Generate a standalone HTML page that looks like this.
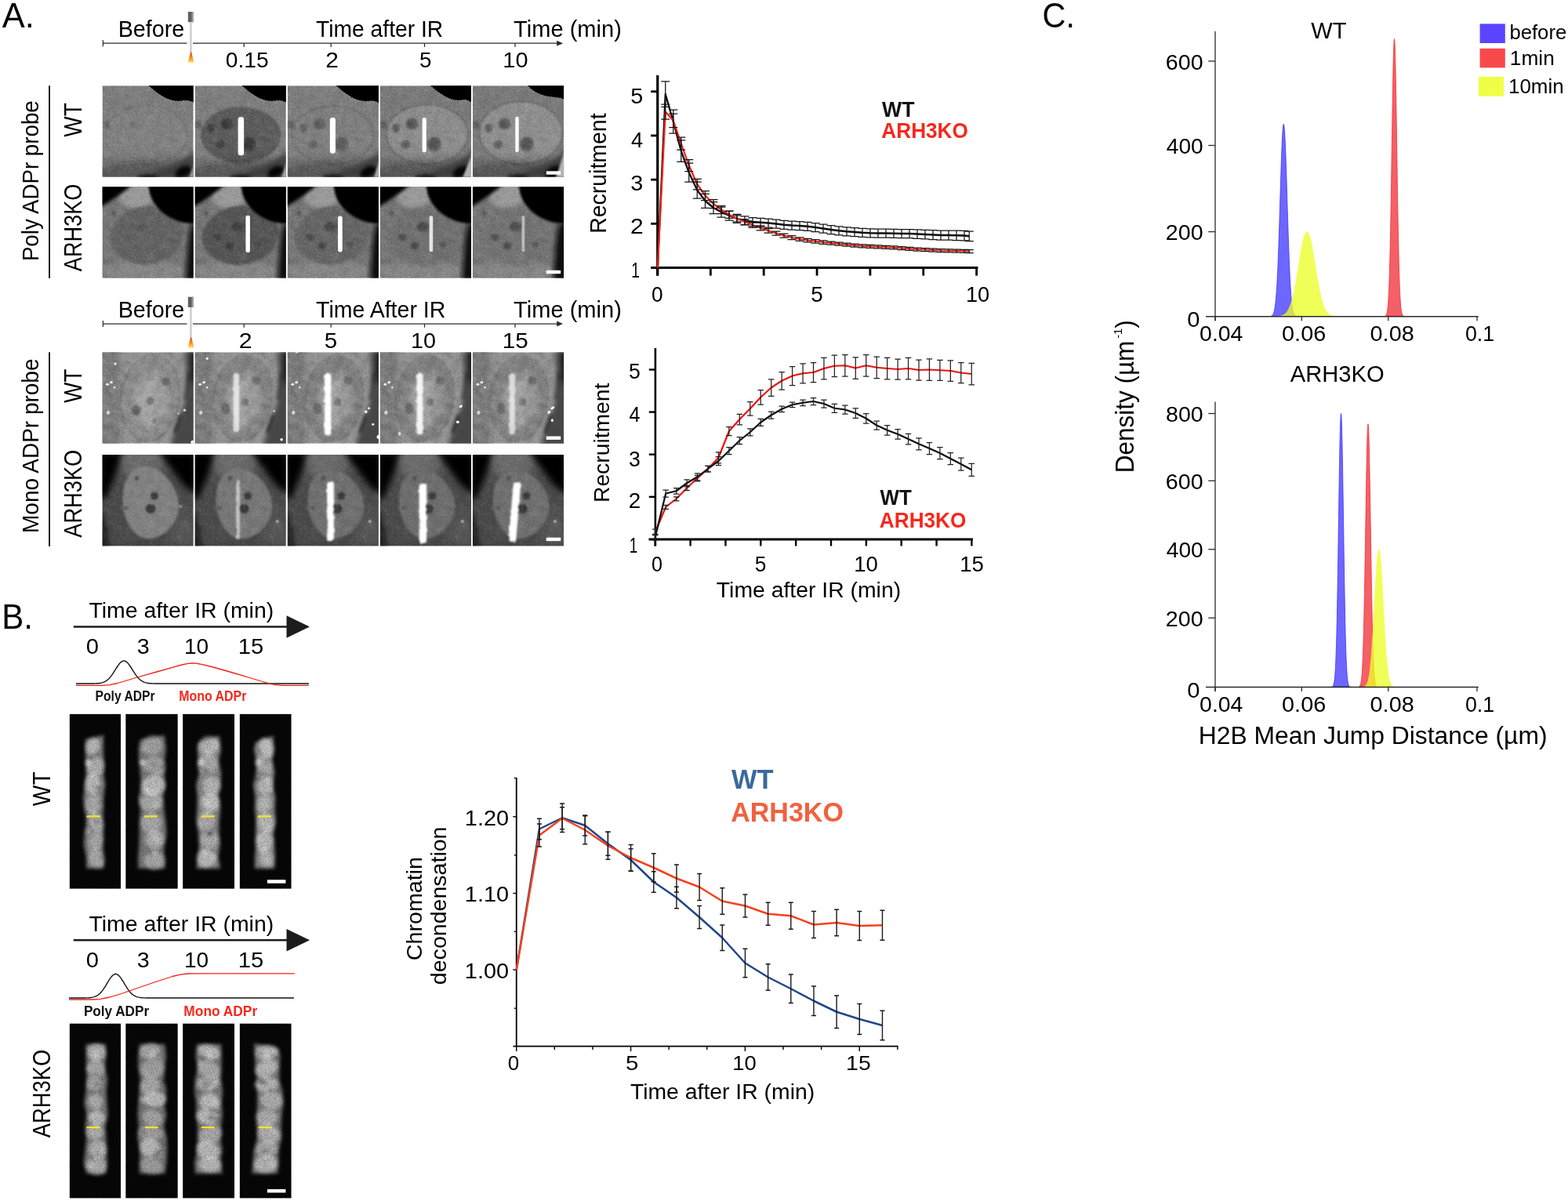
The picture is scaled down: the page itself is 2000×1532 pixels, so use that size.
<!DOCTYPE html>
<html lang="en"><head><meta charset="utf-8"><title>Figure</title>
<style>html,body{margin:0;padding:0;background:#fff;overflow:hidden}svg{display:block}text{font-family:"Liberation Sans",sans-serif}</style></head>
<body>
<svg width="2000" height="1532" viewBox="0 0 2000 1532">
<defs>
<linearGradient id="flame" x1="0" y1="0" x2="0" y2="1"><stop offset="0" stop-color="#e2401f"/><stop offset="0.45" stop-color="#f08a1c"/><stop offset="0.8" stop-color="#fbc63a"/><stop offset="1" stop-color="#ffe9a0" stop-opacity="0.6"/></linearGradient>
<filter id="b05" x="-30%" y="-30%" width="160%" height="160%"><feGaussianBlur stdDeviation="0.5"/></filter><filter id="b07" x="-30%" y="-30%" width="160%" height="160%"><feGaussianBlur stdDeviation="0.7"/></filter><filter id="b1" x="-30%" y="-30%" width="160%" height="160%"><feGaussianBlur stdDeviation="1"/></filter><filter id="b15" x="-30%" y="-30%" width="160%" height="160%"><feGaussianBlur stdDeviation="1.5"/></filter><filter id="b2" x="-30%" y="-30%" width="160%" height="160%"><feGaussianBlur stdDeviation="2"/></filter><filter id="b3" x="-30%" y="-30%" width="160%" height="160%"><feGaussianBlur stdDeviation="3"/></filter><filter id="b4" x="-30%" y="-30%" width="160%" height="160%"><feGaussianBlur stdDeviation="4"/></filter><filter id="b6" x="-30%" y="-30%" width="160%" height="160%"><feGaussianBlur stdDeviation="6"/></filter><clipPath id="tc"><rect width="116.2" height="116.5"/></clipPath><clipPath id="bc"><rect width="66.2" height="223.3"/></clipPath><filter id="nz" x="0" y="0" width="100%" height="100%" color-interpolation-filters="sRGB"><feTurbulence type="fractalNoise" baseFrequency="0.45" numOctaves="1" seed="7" result="n"/><feColorMatrix in="n" type="matrix" values="0 0 0 0 1  0 0 0 0 1  0 0 0 0 1  2.4 0 0 0 -1.2" result="w"/><feColorMatrix in="n" type="matrix" values="0 0 0 0 0  0 0 0 0 0  0 0 0 0 0  -2.4 0 0 0 1.2" result="k"/><feMerge><feMergeNode in="w"/><feMergeNode in="k"/></feMerge></filter><filter id="nzc" x="0" y="0" width="100%" height="100%" color-interpolation-filters="sRGB"><feTurbulence type="fractalNoise" baseFrequency="0.1" numOctaves="2" seed="23" result="n"/><feColorMatrix in="n" type="matrix" values="0 0 0 0 1  0 0 0 0 1  0 0 0 0 1  3.0 0 0 0 -1.5" result="w"/><feColorMatrix in="n" type="matrix" values="0 0 0 0 0  0 0 0 0 0  0 0 0 0 0  -3.0 0 0 0 1.5" result="k"/><feMerge><feMergeNode in="w"/><feMergeNode in="k"/></feMerge></filter><filter id="rg" x="-60%" y="-10%" width="220%" height="120%"><feTurbulence type="fractalNoise" baseFrequency="0.16" numOctaves="2" seed="9" result="t"/><feDisplacementMap in="SourceGraphic" in2="t" scale="3.4" xChannelSelector="R" yChannelSelector="G"/><feGaussianBlur stdDeviation="0.8"/></filter><filter id="rg1" x="-60%" y="-10%" width="220%" height="120%"><feTurbulence type="fractalNoise" baseFrequency="0.16" numOctaves="2" seed="9" result="t"/><feDisplacementMap in="SourceGraphic" in2="t" scale="1.6" xChannelSelector="R" yChannelSelector="G"/><feGaussianBlur stdDeviation="0.5"/></filter><filter id="nzd" x="0" y="0" width="100%" height="100%" color-interpolation-filters="sRGB"><feTurbulence type="fractalNoise" baseFrequency="0.75" numOctaves="1" seed="3" result="n"/><feColorMatrix in="n" type="matrix" values="0 0 0 0 0  0 0 0 0 0  0 0 0 0 0  -3.2 0 0 0 1.9"/></filter></defs>
<rect width="2000" height="1532" fill="#fff"/>
<text transform="translate(2.70 34.60) scale(0.9647 1)" font-size="45.00" fill="#000">A.</text>
<text transform="translate(2.23 801.60) scale(0.9673 1)" font-size="43.50" fill="#000">B.</text>
<text transform="translate(1329.53 35.00) scale(0.9201 1)" font-size="45.00" fill="#000">C.</text>
<line x1="131.40" y1="55.20" x2="238.50" y2="55.20" stroke="#2a2a2a" stroke-width="1.25"/><line x1="131.40" y1="51.20" x2="131.40" y2="59.20" stroke="#2a2a2a" stroke-width="1.25"/><line x1="246.00" y1="55.20" x2="714.00" y2="55.20" stroke="#2a2a2a" stroke-width="1.25"/><path d="M718 55.2 L710.2 51.7 L710.2 58.7Z" fill="#2a2a2a"/><line x1="311.20" y1="55.20" x2="311.20" y2="60.00" stroke="#2a2a2a" stroke-width="1.25"/><line x1="422.20" y1="55.20" x2="422.20" y2="60.00" stroke="#2a2a2a" stroke-width="1.25"/><line x1="541.50" y1="55.20" x2="541.50" y2="60.00" stroke="#2a2a2a" stroke-width="1.25"/><line x1="657.00" y1="55.20" x2="657.00" y2="60.00" stroke="#2a2a2a" stroke-width="1.25"/><text transform="translate(150.70 46.60) scale(0.9803 1)" font-size="29.30" fill="#000">Before</text><text transform="translate(403.04 46.60) scale(0.9641 1)" font-size="29.30" fill="#000">Time after IR</text><text transform="translate(655.02 46.60) scale(0.9927 1)" font-size="29.30" fill="#000">Time (min)</text><text transform="translate(287.77 86.30) scale(0.9877 1)" font-size="28.50" fill="#000">0.15</text><text transform="translate(415.21 86.30) scale(1.0488 1)" font-size="28.50" fill="#000">2</text><text transform="translate(534.89 86.30) scale(0.9751 1)" font-size="28.50" fill="#000">5</text><text transform="translate(641.33 86.30) scale(1.0140 1)" font-size="28.50" fill="#000">10</text><rect x="239.8" y="15" width="7.2" height="13.2" fill="#5a6165"/><rect x="244.6" y="15" width="2.4" height="13.2" fill="#9aa1a5"/><rect x="242.3" y="28.2" width="2.5" height="38.6" fill="#c4c4c4"/><rect x="243.6" y="28.2" width="1.2" height="38.6" fill="#e2e2e2"/><path d="M243 66.6 L244.2 66.6 L247.6 80.6 L239.4 80.6Z" fill="url(#flame)"/>
<line x1="131.40" y1="413.00" x2="238.50" y2="413.00" stroke="#2a2a2a" stroke-width="1.25"/><line x1="131.40" y1="409.00" x2="131.40" y2="417.00" stroke="#2a2a2a" stroke-width="1.25"/><line x1="246.00" y1="413.00" x2="714.00" y2="413.00" stroke="#2a2a2a" stroke-width="1.25"/><path d="M718 413 L710.2 409.5 L710.2 416.5Z" fill="#2a2a2a"/><line x1="311.20" y1="413.00" x2="311.20" y2="417.80" stroke="#2a2a2a" stroke-width="1.25"/><line x1="422.20" y1="413.00" x2="422.20" y2="417.80" stroke="#2a2a2a" stroke-width="1.25"/><line x1="541.50" y1="413.00" x2="541.50" y2="417.80" stroke="#2a2a2a" stroke-width="1.25"/><line x1="657.00" y1="413.00" x2="657.00" y2="417.80" stroke="#2a2a2a" stroke-width="1.25"/><text transform="translate(150.70 404.80) scale(0.9803 1)" font-size="29.30" fill="#000">Before</text><text transform="translate(403.03 404.80) scale(0.9733 1)" font-size="29.30" fill="#000">Time After IR</text><text transform="translate(655.02 404.80) scale(0.9927 1)" font-size="29.30" fill="#000">Time (min)</text><text transform="translate(304.74 444.40) scale(1.0603 1)" font-size="28.50" fill="#000">2</text><text transform="translate(413.82 444.40) scale(1.0342 1)" font-size="28.50" fill="#000">5</text><text transform="translate(524.09 444.40) scale(1.0088 1)" font-size="28.50" fill="#000">10</text><text transform="translate(640.78 444.40) scale(1.0403 1)" font-size="28.50" fill="#000">15</text><rect x="239.8" y="378.75" width="7.2" height="13.2" fill="#5a6165"/><rect x="244.6" y="378.75" width="2.4" height="13.2" fill="#9aa1a5"/><rect x="242.3" y="391.95" width="2.5" height="38.6" fill="#c4c4c4"/><rect x="243.6" y="391.95" width="1.2" height="38.6" fill="#e2e2e2"/><path d="M243 430.35 L244.2 430.35 L247.6 444.35 L239.4 444.35Z" fill="url(#flame)"/>
<line x1="63.00" y1="109.30" x2="63.00" y2="355.00" stroke="#222" stroke-width="2"/>
<line x1="63.00" y1="449.30" x2="63.00" y2="697.00" stroke="#222" stroke-width="2"/>
<text transform="translate(49.00 333.12) rotate(-90) scale(0.9397 1)" font-size="29.50" fill="#000">Poly ADPr probe</text>
<text transform="translate(103.50 174.64) rotate(-90) scale(0.9024 1)" font-size="31.00" fill="#000">WT</text>
<text transform="translate(103.50 346.20) rotate(-90) scale(0.8761 1)" font-size="31.00" fill="#000">ARH3KO</text>
<text transform="translate(49.00 679.94) rotate(-90) scale(0.9487 1)" font-size="29.50" fill="#000">Mono ADPr probe</text>
<text transform="translate(103.50 514.04) rotate(-90) scale(0.9024 1)" font-size="31.00" fill="#000">WT</text>
<text transform="translate(103.50 685.70) rotate(-90) scale(0.8785 1)" font-size="31.00" fill="#000">ARH3KO</text>
<g transform="translate(130.5 109.3)" clip-path="url(#tc)"><rect x="0.0" y="0.0" width="116.2" height="116.5" fill="#7e7e7e"/><g filter="url(#b1)"><ellipse cx="56.0" cy="63.0" rx="53.0" ry="39.0" fill="#707070" opacity="0.6"/><ellipse cx="56.0" cy="63.0" rx="51.0" ry="37.0" fill="#828282"/></g><g filter="url(#b15)"><ellipse cx="41.0" cy="49.0" rx="6.0" ry="6.0" fill="#747474" opacity="0.8"/><ellipse cx="87.0" cy="60.0" rx="3.0" ry="3.0" fill="#707070" opacity="0.7"/><ellipse cx="6.0" cy="50.0" rx="4.0" ry="5.0" fill="#606060" opacity="0.7"/><ellipse cx="36.0" cy="28.0" rx="4.0" ry="2.0" fill="#686868" opacity="0.6" transform="rotate(-20 36 28)"/></g><g filter="url(#b6)"><ellipse cx="62.0" cy="124.0" rx="90.0" ry="30.0" fill="#323232" opacity="0.5"/></g><rect x="-50" y="-50" width="220" height="220" transform="rotate(27 58 58)" filter="url(#nz)" opacity="0.17"/><rect x="-50" y="-50" width="220" height="220" transform="rotate(27 58 58)" filter="url(#nzc)" opacity="0.06"/><g filter="url(#b3)"><path d="M46 118 C58 113 72 109 86 103 C98 97 108 90 118 84 L118 118Z" fill="#343434" opacity="0.8"/></g><g filter="url(#b2)"><ellipse cx="103.0" cy="110.0" rx="11.0" ry="6.5" fill="#060606" opacity="0.9" transform="rotate(-28 103 110)"/><ellipse cx="58.0" cy="118.0" rx="13.0" ry="4.0" fill="#080808" opacity="0.95"/></g><g filter="url(#b1)"><path d="M110.5 118 L117 100 L118 100 L118 118Z" fill="#969696"/></g><g filter="url(#b07)"><path d="M58 -1 C63 4 71 10.5 80 15.5 C88 19.5 96 20.5 104 19 C110 18.5 114 20 118 22.5 L118 -1Z" fill="#060606"/></g><path d="M58 -1 C63 4 71 10.5 80 15.5 C88 19.5 96 20.5 104 19 C110 18.5 114 20 118 22.5 L118 -1Z" fill="none" stroke="#c8c8c8" stroke-width="1.3" stroke-dasharray="1.3 2.6" opacity="0.45"/></g>
<g transform="translate(248.6 109.3)" clip-path="url(#tc)"><rect x="0.0" y="0.0" width="116.2" height="116.5" fill="#7e7e7e"/><g filter="url(#b1)"><ellipse cx="58.5" cy="63.0" rx="51.0" ry="36.0" fill="#5c5c5c"/></g><g filter="url(#b15)"><ellipse cx="40.5" cy="48.5" rx="7.6" ry="7.4" fill="#3a3a3a"/><ellipse cx="32.5" cy="75.0" rx="6.0" ry="5.4" fill="#404040"/><ellipse cx="69.0" cy="74.5" rx="9.0" ry="9.2" fill="#3a3a3a"/><ellipse cx="20.0" cy="54.0" rx="4.6" ry="5.6" fill="#404040"/><ellipse cx="4.0" cy="50.0" rx="4.5" ry="5.5" fill="#606060" opacity="0.8"/></g><g filter="url(#b6)"><ellipse cx="62.0" cy="124.0" rx="90.0" ry="30.0" fill="#323232" opacity="0.5"/></g><rect x="-50" y="-50" width="220" height="220" transform="rotate(27 58 58)" filter="url(#nz)" opacity="0.17"/><rect x="-50" y="-50" width="220" height="220" transform="rotate(27 58 58)" filter="url(#nzc)" opacity="0.06"/><g filter="url(#b3)"><path d="M46 118 C58 113 72 109 86 103 C98 97 108 90 118 84 L118 118Z" fill="#343434" opacity="0.8"/></g><g filter="url(#b2)"><ellipse cx="103.0" cy="110.0" rx="11.0" ry="6.5" fill="#060606" opacity="0.9" transform="rotate(-28 103 110)"/><ellipse cx="58.0" cy="118.0" rx="13.0" ry="4.0" fill="#080808" opacity="0.95"/></g><g filter="url(#b1)"><path d="M110 118 L117 98 L118 98 L118 118Z" fill="#a5a5a5"/></g><g filter="url(#b07)"><path d="M59 -1 C64 4 72 10.5 81 15.5 C89 19.5 97 20.5 105 19 C110 18.5 114 20 118 22.5 L118 -1Z" fill="#060606"/></g><path d="M59 -1 C64 4 72 10.5 81 15.5 C89 19.5 97 20.5 105 19 C110 18.5 114 20 118 22.5 L118 -1Z" fill="none" stroke="#c8c8c8" stroke-width="1.3" stroke-dasharray="1.3 2.6" opacity="0.45"/><g filter="url(#b05)"><rect x="55.0" y="40.0" width="7.5" height="49.0" fill="#ffffff" rx="3.2"/></g></g>
<g transform="translate(366.7 109.3)" clip-path="url(#tc)"><rect x="0.0" y="0.0" width="116.2" height="116.5" fill="#7e7e7e"/><g filter="url(#b1)"><ellipse cx="58.0" cy="63.0" rx="53.0" ry="38.0" fill="#666666" opacity="0.7"/><ellipse cx="58.0" cy="63.0" rx="51.0" ry="36.0" fill="#808080"/></g><g filter="url(#b15)"><ellipse cx="40.5" cy="48.5" rx="7.6" ry="7.4" fill="#5e5e5e"/><ellipse cx="32.5" cy="75.0" rx="6.0" ry="5.4" fill="#646464"/><ellipse cx="69.0" cy="74.5" rx="9.0" ry="9.2" fill="#5e5e5e"/><ellipse cx="20.0" cy="54.0" rx="4.6" ry="5.6" fill="#646464"/><ellipse cx="4.0" cy="50.0" rx="4.5" ry="5.5" fill="#606060" opacity="0.8"/><ellipse cx="85.0" cy="59.5" rx="2.6" ry="2.4" fill="#666666" opacity="0.8"/></g><g filter="url(#b6)"><ellipse cx="62.0" cy="124.0" rx="90.0" ry="30.0" fill="#323232" opacity="0.5"/></g><rect x="-50" y="-50" width="220" height="220" transform="rotate(27 58 58)" filter="url(#nz)" opacity="0.17"/><rect x="-50" y="-50" width="220" height="220" transform="rotate(27 58 58)" filter="url(#nzc)" opacity="0.06"/><g filter="url(#b3)"><path d="M46 118 C58 113 72 109 86 103 C98 97 108 90 118 84 L118 118Z" fill="#343434" opacity="0.8"/></g><g filter="url(#b2)"><ellipse cx="103.0" cy="110.0" rx="11.0" ry="6.5" fill="#060606" opacity="0.9" transform="rotate(-28 103 110)"/><ellipse cx="58.0" cy="118.0" rx="13.0" ry="4.0" fill="#080808" opacity="0.95"/></g><g filter="url(#b1)"><path d="M110 118 L117 96 L118 96 L118 118Z" fill="#aaaaaa"/></g><g filter="url(#b07)"><path d="M61 -1 C66 4 74 10.5 83 15.5 C90 19.5 98 20.5 106 19.5 C111 19 114 20.5 118 23.5 L118 -1Z" fill="#060606"/></g><path d="M61 -1 C66 4 74 10.5 83 15.5 C90 19.5 98 20.5 106 19.5 C111 19 114 20.5 118 23.5 L118 -1Z" fill="none" stroke="#c8c8c8" stroke-width="1.3" stroke-dasharray="1.3 2.6" opacity="0.45"/><g filter="url(#b05)"><rect x="54.1" y="40.7" width="7.1" height="45.8" fill="#ffffff" rx="3.2"/></g></g>
<g transform="translate(484.8 109.3)" clip-path="url(#tc)"><rect x="0.0" y="0.0" width="116.2" height="116.5" fill="#7a7a7a"/><g filter="url(#b1)"><ellipse cx="60.0" cy="62.0" rx="53.0" ry="39.0" fill="#626262" opacity="0.7"/><ellipse cx="60.0" cy="62.0" rx="51.0" ry="37.0" fill="#8e8e8e"/></g><g filter="url(#b15)"><ellipse cx="40.5" cy="48.5" rx="7.6" ry="7.4" fill="#565656"/><ellipse cx="32.5" cy="75.0" rx="6.0" ry="5.4" fill="#5c5c5c"/><ellipse cx="69.0" cy="74.5" rx="9.0" ry="9.2" fill="#565656"/><ellipse cx="20.0" cy="54.0" rx="4.6" ry="5.6" fill="#5c5c5c"/><ellipse cx="4.0" cy="50.0" rx="4.5" ry="5.5" fill="#5c5c5c" opacity="0.8"/><ellipse cx="85.0" cy="59.5" rx="2.6" ry="2.4" fill="#747474" opacity="0.8"/></g><g filter="url(#b6)"><ellipse cx="62.0" cy="124.0" rx="90.0" ry="30.0" fill="#323232" opacity="0.5"/></g><rect x="-50" y="-50" width="220" height="220" transform="rotate(27 58 58)" filter="url(#nz)" opacity="0.17"/><rect x="-50" y="-50" width="220" height="220" transform="rotate(27 58 58)" filter="url(#nzc)" opacity="0.06"/><g filter="url(#b3)"><path d="M46 118 C58 113 72 109 86 103 C98 97 108 90 118 84 L118 118Z" fill="#343434" opacity="0.8"/></g><g filter="url(#b2)"><ellipse cx="103.0" cy="110.0" rx="11.0" ry="6.5" fill="#060606" opacity="0.9" transform="rotate(-28 103 110)"/><ellipse cx="58.0" cy="118.0" rx="13.0" ry="4.0" fill="#080808" opacity="0.95"/></g><g filter="url(#b1)"><path d="M105 118 L117 88 L118 88 L118 118Z" fill="#afafaf"/></g><g filter="url(#b07)"><path d="M63.5 -1 C68 4 76 10 85 15 C92 18.5 100 19.5 107 18 C111 18 115 20 118 23 L118 -1Z" fill="#060606"/></g><path d="M63.5 -1 C68 4 76 10 85 15 C92 18.5 100 19.5 107 18 C111 18 115 20 118 23 L118 -1Z" fill="none" stroke="#c8c8c8" stroke-width="1.3" stroke-dasharray="1.3 2.6" opacity="0.45"/><g filter="url(#b05)"><rect x="53.8" y="40.6" width="5.2" height="44.4" fill="#ffffff" rx="2.6000000000000014"/></g></g>
<g transform="translate(602.9 109.3)" clip-path="url(#tc)"><rect x="0.0" y="0.0" width="116.2" height="116.5" fill="#7a7a7a"/><g filter="url(#b1)"><ellipse cx="61.5" cy="60.0" rx="54.0" ry="41.0" fill="#626262" opacity="0.7"/><ellipse cx="61.5" cy="60.0" rx="52.0" ry="39.0" fill="#909090"/></g><g filter="url(#b15)"><ellipse cx="40.5" cy="48.5" rx="7.6" ry="7.4" fill="#585858"/><ellipse cx="32.5" cy="75.0" rx="6.0" ry="5.4" fill="#5e5e5e"/><ellipse cx="69.0" cy="74.5" rx="9.0" ry="9.2" fill="#585858"/><ellipse cx="20.0" cy="54.0" rx="4.6" ry="5.6" fill="#5e5e5e"/><ellipse cx="4.0" cy="50.0" rx="4.5" ry="5.5" fill="#5c5c5c" opacity="0.8"/><ellipse cx="85.0" cy="59.5" rx="2.6" ry="2.4" fill="#767676" opacity="0.8"/></g><g filter="url(#b6)"><ellipse cx="62.0" cy="124.0" rx="90.0" ry="30.0" fill="#323232" opacity="0.5"/></g><rect x="-50" y="-50" width="220" height="220" transform="rotate(27 58 58)" filter="url(#nz)" opacity="0.17"/><rect x="-50" y="-50" width="220" height="220" transform="rotate(27 58 58)" filter="url(#nzc)" opacity="0.06"/><g filter="url(#b3)"><path d="M46 118 C58 113 72 109 86 103 C98 97 108 90 118 84 L118 118Z" fill="#343434" opacity="0.8"/></g><g filter="url(#b2)"><ellipse cx="103.0" cy="110.0" rx="11.0" ry="6.5" fill="#060606" opacity="0.9" transform="rotate(-28 103 110)"/><ellipse cx="58.0" cy="118.0" rx="13.0" ry="4.0" fill="#080808" opacity="0.95"/></g><g filter="url(#b1)"><path d="M106 118 L117 84 L118 84 L118 118Z" fill="#b4b4b4"/></g><g filter="url(#b07)"><path d="M69.4 -1 C73 4 80 9 89 12 C96 14.5 104 14.5 110 15.5 C113 16 116 17 118 19 L118 -1Z" fill="#060606"/></g><path d="M69.4 -1 C73 4 80 9 89 12 C96 14.5 104 14.5 110 15.5 C113 16 116 17 118 19 L118 -1Z" fill="none" stroke="#c8c8c8" stroke-width="1.3" stroke-dasharray="1.3 2.6" opacity="0.45"/><g filter="url(#b05)"><rect x="54.4" y="39.4" width="4.4" height="45.6" fill="#ffffff" rx="2.1999999999999993"/></g><rect x="93.9" y="109" width="18.4" height="4.4" fill="#fff"/></g>
<g transform="translate(130.5 238.2)" clip-path="url(#tc)"><rect x="0.0" y="0.0" width="116.2" height="116.5" fill="#767676"/><g filter="url(#b3)"><ellipse cx="44.0" cy="10.0" rx="24.0" ry="18.0" fill="#9e9e9e" opacity="0.9"/><ellipse cx="50.0" cy="108.0" rx="56.0" ry="12.0" fill="#8c8c8c" opacity="0.8"/></g><g filter="url(#b15)"><ellipse cx="57.0" cy="62.0" rx="47.0" ry="37.0" fill="#646464" transform="rotate(-8 57 62)"/></g><g filter="url(#b15)"><ellipse cx="50.0" cy="52.0" rx="9.0" ry="6.0" fill="#585858" opacity="0.8"/><ellipse cx="28.0" cy="66.0" rx="5.0" ry="5.0" fill="#585858" opacity="0.7"/><ellipse cx="14.0" cy="34.0" rx="3.0" ry="3.0" fill="#4c4c4c" opacity="0.8"/></g><rect x="-50" y="-50" width="220" height="220" transform="rotate(27 58 58)" filter="url(#nz)" opacity="0.16"/><rect x="-50" y="-50" width="220" height="220" transform="rotate(27 58 58)" filter="url(#nzc)" opacity="0.06"/><g filter="url(#b2)"><path d="M-3 -3 L39 -3 C26 8 12 18 -3 26Z" fill="#060606"/></g><g filter="url(#b15)"><ellipse cx="118.0" cy="-3.0" rx="59.0" ry="50.0" fill="#060606"/></g><g filter="url(#b3)"><path d="M114 46 C110 58 109 74 108 92 C107 102 107 112 106 120 L124 120 L124 46Z" fill="#0e0e0e"/></g></g>
<g transform="translate(248.6 238.2)" clip-path="url(#tc)"><rect x="0.0" y="0.0" width="116.2" height="116.5" fill="#767676"/><g filter="url(#b3)"><ellipse cx="44.0" cy="10.0" rx="24.0" ry="18.0" fill="#9e9e9e" opacity="0.9"/><ellipse cx="50.0" cy="108.0" rx="56.0" ry="12.0" fill="#8c8c8c" opacity="0.8"/></g><g filter="url(#b15)"><ellipse cx="58.0" cy="62.0" rx="49.0" ry="37.5" fill="#545454" transform="rotate(-8 58 62)"/></g><g filter="url(#b15)"><ellipse cx="55.0" cy="51.0" rx="8.0" ry="6.5" fill="#404040"/><ellipse cx="28.0" cy="65.0" rx="5.0" ry="5.0" fill="#404040"/><ellipse cx="44.0" cy="75.0" rx="5.5" ry="5.0" fill="#404040"/><ellipse cx="80.0" cy="74.0" rx="4.5" ry="4.0" fill="#404040"/><ellipse cx="14.0" cy="34.0" rx="3.0" ry="3.0" fill="#4c4c4c" opacity="0.8"/></g><rect x="-50" y="-50" width="220" height="220" transform="rotate(27 58 58)" filter="url(#nz)" opacity="0.16"/><rect x="-50" y="-50" width="220" height="220" transform="rotate(27 58 58)" filter="url(#nzc)" opacity="0.06"/><g filter="url(#b2)"><path d="M-3 -3 L39 -3 C26 8 12 18 -3 26Z" fill="#060606"/></g><g filter="url(#b15)"><ellipse cx="118.0" cy="-3.0" rx="59.0" ry="50.0" fill="#060606"/></g><g filter="url(#b3)"><path d="M113.5 46 C109.5 58 108.5 74 107.5 92 C106.5 102 106.5 112 105.5 120 L124 120 L124 46Z" fill="#0e0e0e"/></g><g filter="url(#b05)"><rect x="64.8" y="36.5" width="5.5" height="47.5" fill="#ffffff" rx="2.75"/></g></g>
<g transform="translate(366.7 238.2)" clip-path="url(#tc)"><rect x="0.0" y="0.0" width="116.2" height="116.5" fill="#767676"/><g filter="url(#b3)"><ellipse cx="44.0" cy="10.0" rx="24.0" ry="18.0" fill="#9e9e9e" opacity="0.9"/><ellipse cx="50.0" cy="108.0" rx="56.0" ry="12.0" fill="#8c8c8c" opacity="0.8"/></g><g filter="url(#b15)"><ellipse cx="57.0" cy="62.0" rx="48.0" ry="37.0" fill="#666666" transform="rotate(-8 57 62)"/></g><g filter="url(#b15)"><ellipse cx="55.0" cy="51.0" rx="8.0" ry="6.5" fill="#4a4a4a"/><ellipse cx="28.0" cy="65.0" rx="5.0" ry="5.0" fill="#4a4a4a"/><ellipse cx="44.0" cy="75.0" rx="5.5" ry="5.0" fill="#4a4a4a"/><ellipse cx="80.0" cy="74.0" rx="4.5" ry="4.0" fill="#4a4a4a"/><ellipse cx="14.0" cy="34.0" rx="3.0" ry="3.0" fill="#4c4c4c" opacity="0.8"/></g><rect x="-50" y="-50" width="220" height="220" transform="rotate(27 58 58)" filter="url(#nz)" opacity="0.16"/><rect x="-50" y="-50" width="220" height="220" transform="rotate(27 58 58)" filter="url(#nzc)" opacity="0.06"/><g filter="url(#b2)"><path d="M-3 -3 L39 -3 C26 8 12 18 -3 26Z" fill="#060606"/></g><g filter="url(#b15)"><ellipse cx="118.0" cy="-3.0" rx="59.0" ry="50.0" fill="#060606"/></g><g filter="url(#b3)"><path d="M113 46 C109 58 108 74 107 92 C106 102 106 112 105 120 L124 120 L124 46Z" fill="#0e0e0e"/></g><g filter="url(#b05)"><rect x="64.3" y="37.3" width="5.7" height="45.9" fill="#ffffff" rx="2.8500000000000014"/></g></g>
<g transform="translate(484.8 238.2)" clip-path="url(#tc)"><rect x="0.0" y="0.0" width="116.2" height="116.5" fill="#767676"/><g filter="url(#b3)"><ellipse cx="44.0" cy="10.0" rx="24.0" ry="18.0" fill="#9e9e9e" opacity="0.9"/><ellipse cx="50.0" cy="108.0" rx="56.0" ry="12.0" fill="#8c8c8c" opacity="0.8"/></g><g filter="url(#b3)"><ellipse cx="58.0" cy="64.0" rx="48.0" ry="38.0" fill="#707070" opacity="0.85" transform="rotate(-8 58 64)"/></g><g filter="url(#b15)"><ellipse cx="55.0" cy="51.0" rx="8.0" ry="6.5" fill="#4c4c4c"/><ellipse cx="28.0" cy="65.0" rx="5.0" ry="5.0" fill="#4c4c4c"/><ellipse cx="44.0" cy="75.0" rx="5.5" ry="5.0" fill="#4c4c4c"/><ellipse cx="80.0" cy="74.0" rx="4.5" ry="4.0" fill="#4c4c4c"/><ellipse cx="14.0" cy="34.0" rx="3.0" ry="3.0" fill="#4c4c4c" opacity="0.8"/></g><rect x="-50" y="-50" width="220" height="220" transform="rotate(27 58 58)" filter="url(#nz)" opacity="0.16"/><rect x="-50" y="-50" width="220" height="220" transform="rotate(27 58 58)" filter="url(#nzc)" opacity="0.06"/><g filter="url(#b2)"><path d="M-3 -3 L39 -3 C26 8 12 18 -3 26Z" fill="#060606"/></g><g filter="url(#b15)"><ellipse cx="118.0" cy="-3.0" rx="59.0" ry="50.0" fill="#060606"/></g><g filter="url(#b3)"><path d="M112.5 46 C108.5 58 107.5 74 106.5 92 C105.5 102 105.5 112 104.5 120 L124 120 L124 46Z" fill="#0e0e0e"/></g><g filter="url(#b05)" opacity="0.82"><rect x="62.8" y="37.0" width="4.6" height="46.0" fill="#ffffff" rx="2.3000000000000043"/></g></g>
<g transform="translate(602.9 238.2)" clip-path="url(#tc)"><rect x="0.0" y="0.0" width="116.2" height="116.5" fill="#767676"/><g filter="url(#b3)"><ellipse cx="44.0" cy="10.0" rx="24.0" ry="18.0" fill="#9e9e9e" opacity="0.9"/><ellipse cx="50.0" cy="108.0" rx="56.0" ry="12.0" fill="#8c8c8c" opacity="0.8"/></g><g filter="url(#b3)"><ellipse cx="58.0" cy="64.0" rx="48.0" ry="38.0" fill="#747474" opacity="0.85" transform="rotate(-8 58 64)"/></g><g filter="url(#b15)"><ellipse cx="55.0" cy="51.0" rx="8.0" ry="6.5" fill="#505050"/><ellipse cx="28.0" cy="65.0" rx="5.0" ry="5.0" fill="#505050"/><ellipse cx="44.0" cy="75.0" rx="5.5" ry="5.0" fill="#505050"/><ellipse cx="80.0" cy="74.0" rx="4.5" ry="4.0" fill="#505050"/><ellipse cx="14.0" cy="34.0" rx="3.0" ry="3.0" fill="#4c4c4c" opacity="0.8"/></g><rect x="-50" y="-50" width="220" height="220" transform="rotate(27 58 58)" filter="url(#nz)" opacity="0.16"/><rect x="-50" y="-50" width="220" height="220" transform="rotate(27 58 58)" filter="url(#nzc)" opacity="0.06"/><g filter="url(#b2)"><path d="M-3 -3 L39 -3 C26 8 12 18 -3 26Z" fill="#060606"/></g><g filter="url(#b15)"><ellipse cx="118.0" cy="-3.0" rx="59.0" ry="50.0" fill="#060606"/></g><g filter="url(#b3)"><path d="M110.5 46 C106.5 58 105.5 74 104.5 92 C103.5 102 103.5 112 102.5 120 L124 120 L124 46Z" fill="#0e0e0e"/></g><g filter="url(#b05)" opacity="0.55"><rect x="62.6" y="37.0" width="3.8" height="46.0" fill="#f5f5f5" rx="1.9000000000000021"/></g><rect x="93.9" y="106.6" width="18.4" height="4.4" fill="#fff"/></g>
<g transform="translate(130.5 449.3)" clip-path="url(#tc)"><rect x="0.0" y="0.0" width="116.2" height="116.5" fill="#929292"/><g filter="url(#b4)"><rect x="-8.0" y="-8.0" width="32.0" height="140.0" fill="#767676" opacity="0.75"/></g><g filter="url(#b1)"><ellipse cx="61.0" cy="58.5" rx="38.0" ry="56.0" fill="#686868" opacity="0.65" transform="rotate(7 61 58.5)"/><ellipse cx="61.0" cy="58.5" rx="36.3" ry="54.3" fill="#8c8c8c" transform="rotate(7 61 58.5)"/></g><g filter="url(#b6)"><ellipse cx="61.0" cy="62.0" rx="21.0" ry="34.0" fill="#aaaaaa" opacity="0.8" transform="rotate(7 61 62)"/></g><g filter="url(#b1)"><ellipse cx="81.0" cy="37.5" rx="5.5" ry="5.5" fill="#6a6a6a"/><ellipse cx="43.0" cy="74.0" rx="6.0" ry="6.5" fill="#666666"/><ellipse cx="61.0" cy="62.5" rx="4.5" ry="5.0" fill="#747474"/><ellipse cx="66.0" cy="88.0" rx="3.0" ry="3.0" fill="#787878"/></g><rect x="-50" y="-50" width="220" height="220" transform="rotate(27 58 58)" filter="url(#nz)" opacity="0.16"/><rect x="-50" y="-50" width="220" height="220" transform="rotate(27 58 58)" filter="url(#nzc)" opacity="0.1"/><g filter="url(#b3)"><path d="M107 -2 C104 20 110 38 106 58 C102 78 94 98 86 120 L122 120 L122 -2Z" fill="#404040" opacity="0.92"/><path d="M112 -2 L122 -2 L122 44 L113 36Z" fill="#101010" opacity="0.85"/></g><g filter="url(#b2)"><path d="M110 26 C109 40 108 50 106 60" fill="none" stroke="#060606" stroke-width="3.0" opacity="0.45"/><path d="M100 80 C98 88 95 96 92 103" fill="none" stroke="#060606" stroke-width="3.4" opacity="0.7"/></g><g filter="url(#b05)"><ellipse cx="6.5" cy="41.0" rx="1.7" ry="1.5" fill="#ffffff"/><ellipse cx="11.5" cy="38.5" rx="1.8" ry="1.5" fill="#ffffff"/><ellipse cx="15.5" cy="45.0" rx="1.2" ry="1.2" fill="#ffffff" opacity="0.9"/><ellipse cx="7.5" cy="77.0" rx="2.2" ry="2.6" fill="#e6e6e6" opacity="0.8"/><ellipse cx="16.5" cy="14.7" rx="1.6" ry="1.6" fill="#ffffff" opacity="0.95"/><ellipse cx="105.0" cy="74.0" rx="1.8" ry="1.8" fill="#d7d7d7" opacity="0.9"/><ellipse cx="97.0" cy="78.0" rx="1.4" ry="1.4" fill="#c8c8c8" opacity="0.7"/><ellipse cx="115.5" cy="115.0" rx="2.6" ry="2.6" fill="#ffffff"/></g></g>
<g transform="translate(248.6 449.3)" clip-path="url(#tc)"><rect x="0.0" y="0.0" width="116.2" height="116.5" fill="#929292"/><g filter="url(#b4)"><rect x="-8.0" y="-8.0" width="32.0" height="140.0" fill="#767676" opacity="0.75"/></g><g filter="url(#b1)"><ellipse cx="61.0" cy="58.5" rx="38.0" ry="56.0" fill="#686868" opacity="0.65" transform="rotate(7 61 58.5)"/><ellipse cx="61.0" cy="58.5" rx="36.3" ry="54.3" fill="#848484" transform="rotate(7 61 58.5)"/></g><g filter="url(#b6)"><ellipse cx="61.0" cy="62.0" rx="21.0" ry="34.0" fill="#aaaaaa" opacity="0.8" transform="rotate(7 61 62)"/></g><g filter="url(#b1)"><ellipse cx="79.0" cy="36.0" rx="5.5" ry="5.5" fill="#6e6e6e"/><ellipse cx="39.0" cy="72.0" rx="5.5" ry="7.0" fill="#6a6a6a"/><ellipse cx="64.0" cy="64.0" rx="4.5" ry="5.0" fill="#767676"/></g><rect x="-50" y="-50" width="220" height="220" transform="rotate(27 58 58)" filter="url(#nz)" opacity="0.16"/><rect x="-50" y="-50" width="220" height="220" transform="rotate(27 58 58)" filter="url(#nzc)" opacity="0.1"/><g filter="url(#b3)"><path d="M107 -2 C104 20 110 38 106 58 C102 78 94 98 86 120 L122 120 L122 -2Z" fill="#404040" opacity="0.92"/><path d="M112 -2 L122 -2 L122 44 L113 36Z" fill="#101010" opacity="0.85"/></g><g filter="url(#b2)"><path d="M110 26 C109 40 108 50 106 60" fill="none" stroke="#060606" stroke-width="3.0" opacity="0.45"/><path d="M100 80 C98 88 95 96 92 103" fill="none" stroke="#060606" stroke-width="3.4" opacity="0.7"/></g><g filter="url(#b05)"><ellipse cx="6.5" cy="41.0" rx="1.7" ry="1.5" fill="#ffffff"/><ellipse cx="11.5" cy="38.5" rx="1.8" ry="1.5" fill="#ffffff"/><ellipse cx="15.5" cy="45.0" rx="1.2" ry="1.2" fill="#ffffff" opacity="0.9"/><ellipse cx="7.5" cy="77.0" rx="2.2" ry="2.6" fill="#e6e6e6" opacity="0.8"/><ellipse cx="15.6" cy="8.0" rx="1.6" ry="1.6" fill="#ffffff" opacity="0.95"/><ellipse cx="101.0" cy="75.0" rx="1.6" ry="1.6" fill="#c8c8c8" opacity="0.8"/><ellipse cx="110.5" cy="111.5" rx="1.8" ry="1.8" fill="#ffffff"/></g><g filter="url(#rg)" opacity="0.72"><rect x="49.0" y="27.5" width="7.6" height="74.5" fill="#ffffff" rx="3.2"/></g></g>
<g transform="translate(366.7 449.3)" clip-path="url(#tc)"><rect x="0.0" y="0.0" width="116.2" height="116.5" fill="#929292"/><g filter="url(#b4)"><rect x="-8.0" y="-8.0" width="32.0" height="140.0" fill="#767676" opacity="0.75"/></g><g filter="url(#b1)"><ellipse cx="59.5" cy="58.5" rx="38.0" ry="56.0" fill="#686868" opacity="0.65" transform="rotate(7 59.5 58.5)"/><ellipse cx="59.5" cy="58.5" rx="36.3" ry="54.3" fill="#808080" transform="rotate(7 59.5 58.5)"/></g><g filter="url(#b6)"><ellipse cx="59.5" cy="62.0" rx="21.0" ry="34.0" fill="#aaaaaa" opacity="0.8" transform="rotate(7 59.5 62)"/></g><g filter="url(#b1)"><ellipse cx="78.0" cy="36.0" rx="5.5" ry="5.5" fill="#6e6e6e"/><ellipse cx="38.0" cy="72.0" rx="5.5" ry="7.0" fill="#6a6a6a"/><ellipse cx="64.0" cy="64.0" rx="4.5" ry="5.0" fill="#767676"/></g><rect x="-50" y="-50" width="220" height="220" transform="rotate(27 58 58)" filter="url(#nz)" opacity="0.16"/><rect x="-50" y="-50" width="220" height="220" transform="rotate(27 58 58)" filter="url(#nzc)" opacity="0.1"/><g filter="url(#b3)"><path d="M107 -2 C104 20 110 38 106 58 C102 78 94 98 86 120 L122 120 L122 -2Z" fill="#404040" opacity="0.92"/><path d="M112 -2 L122 -2 L122 44 L113 36Z" fill="#101010" opacity="0.85"/></g><g filter="url(#b2)"><path d="M110 26 C109 40 108 50 106 60" fill="none" stroke="#060606" stroke-width="3.0" opacity="0.45"/><path d="M100 80 C98 88 95 96 92 103" fill="none" stroke="#060606" stroke-width="3.4" opacity="0.7"/></g><g filter="url(#b05)"><ellipse cx="6.5" cy="41.0" rx="1.7" ry="1.5" fill="#ffffff"/><ellipse cx="11.5" cy="38.5" rx="1.8" ry="1.5" fill="#ffffff"/><ellipse cx="15.5" cy="45.0" rx="1.2" ry="1.2" fill="#ffffff" opacity="0.9"/><ellipse cx="7.5" cy="77.0" rx="2.2" ry="2.6" fill="#e6e6e6" opacity="0.8"/><ellipse cx="100.0" cy="76.0" rx="1.8" ry="1.8" fill="#f5f5f5"/><ellipse cx="104.0" cy="71.5" rx="1.5" ry="1.5" fill="#ebebeb"/><ellipse cx="109.0" cy="92.0" rx="1.6" ry="1.6" fill="#ebebeb"/><ellipse cx="116.0" cy="108.0" rx="2.2" ry="2.6" fill="#ffffff"/><ellipse cx="12.0" cy="-0.5" rx="2.4" ry="1.6" fill="#ffffff"/></g><g filter="url(#rg)"><rect x="47.3" y="27.5" width="8.3" height="78.5" fill="#ffffff" rx="3.2"/></g></g>
<g transform="translate(484.8 449.3)" clip-path="url(#tc)"><rect x="0.0" y="0.0" width="116.2" height="116.5" fill="#929292"/><g filter="url(#b4)"><rect x="-8.0" y="-8.0" width="32.0" height="140.0" fill="#767676" opacity="0.75"/></g><g filter="url(#b1)"><ellipse cx="57.0" cy="58.5" rx="38.0" ry="56.0" fill="#686868" opacity="0.65" transform="rotate(7 57 58.5)"/><ellipse cx="57.0" cy="58.5" rx="36.3" ry="54.3" fill="#808080" transform="rotate(7 57 58.5)"/></g><g filter="url(#b6)"><ellipse cx="57.0" cy="62.0" rx="21.0" ry="34.0" fill="#aaaaaa" opacity="0.8" transform="rotate(7 57 62)"/></g><g filter="url(#b1)"><ellipse cx="77.0" cy="36.0" rx="5.5" ry="5.5" fill="#6e6e6e"/><ellipse cx="37.0" cy="72.0" rx="5.5" ry="7.0" fill="#6a6a6a"/><ellipse cx="64.0" cy="64.0" rx="4.5" ry="5.0" fill="#767676"/></g><rect x="-50" y="-50" width="220" height="220" transform="rotate(27 58 58)" filter="url(#nz)" opacity="0.16"/><rect x="-50" y="-50" width="220" height="220" transform="rotate(27 58 58)" filter="url(#nzc)" opacity="0.1"/><g filter="url(#b3)"><path d="M107 -2 C104 20 110 38 106 58 C102 78 94 98 86 120 L122 120 L122 -2Z" fill="#404040" opacity="0.92"/><path d="M112 -2 L122 -2 L122 44 L113 36Z" fill="#101010" opacity="0.85"/></g><g filter="url(#b2)"><path d="M110 26 C109 40 108 50 106 60" fill="none" stroke="#060606" stroke-width="3.0" opacity="0.45"/><path d="M100 80 C98 88 95 96 92 103" fill="none" stroke="#060606" stroke-width="3.4" opacity="0.7"/></g><g filter="url(#b05)"><ellipse cx="6.5" cy="41.0" rx="1.7" ry="1.5" fill="#ffffff"/><ellipse cx="11.5" cy="38.5" rx="1.8" ry="1.5" fill="#ffffff"/><ellipse cx="15.5" cy="45.0" rx="1.2" ry="1.2" fill="#ffffff" opacity="0.9"/><ellipse cx="7.5" cy="77.0" rx="2.2" ry="2.6" fill="#e6e6e6" opacity="0.8"/><ellipse cx="103.0" cy="69.0" rx="2.2" ry="1.6" fill="#ffffff" transform="rotate(-30 103 69)"/><ellipse cx="99.0" cy="89.0" rx="1.9" ry="1.9" fill="#ffffff"/><ellipse cx="25.0" cy="104.0" rx="1.6" ry="2.4" fill="#ebebeb" opacity="0.9"/></g><g filter="url(#rg)" opacity="0.9"><rect x="46.8" y="27.0" width="7.8" height="78.0" fill="#ffffff" rx="3.2"/></g></g>
<g transform="translate(602.9 449.3)" clip-path="url(#tc)"><rect x="0.0" y="0.0" width="116.2" height="116.5" fill="#929292"/><g filter="url(#b4)"><rect x="-8.0" y="-8.0" width="32.0" height="140.0" fill="#767676" opacity="0.75"/></g><g filter="url(#b1)"><ellipse cx="59.0" cy="58.5" rx="38.0" ry="56.0" fill="#686868" opacity="0.65" transform="rotate(7 59 58.5)"/><ellipse cx="59.0" cy="58.5" rx="36.3" ry="54.3" fill="#828282" transform="rotate(7 59 58.5)"/></g><g filter="url(#b6)"><ellipse cx="59.0" cy="62.0" rx="21.0" ry="34.0" fill="#aaaaaa" opacity="0.8" transform="rotate(7 59 62)"/></g><g filter="url(#b1)"><ellipse cx="76.0" cy="36.0" rx="5.5" ry="5.5" fill="#6e6e6e"/><ellipse cx="36.0" cy="72.0" rx="5.5" ry="7.0" fill="#6a6a6a"/><ellipse cx="64.0" cy="64.0" rx="4.5" ry="5.0" fill="#767676"/></g><rect x="-50" y="-50" width="220" height="220" transform="rotate(27 58 58)" filter="url(#nz)" opacity="0.16"/><rect x="-50" y="-50" width="220" height="220" transform="rotate(27 58 58)" filter="url(#nzc)" opacity="0.1"/><g filter="url(#b3)"><path d="M107 -2 C104 20 110 38 106 58 C102 78 94 98 86 120 L122 120 L122 -2Z" fill="#404040" opacity="0.92"/><path d="M112 -2 L122 -2 L122 44 L113 36Z" fill="#101010" opacity="0.85"/></g><g filter="url(#b2)"><path d="M110 26 C109 40 108 50 106 60" fill="none" stroke="#060606" stroke-width="3.0" opacity="0.45"/><path d="M100 80 C98 88 95 96 92 103" fill="none" stroke="#060606" stroke-width="3.4" opacity="0.7"/></g><g filter="url(#b05)"><ellipse cx="6.5" cy="41.0" rx="1.7" ry="1.5" fill="#ffffff"/><ellipse cx="11.5" cy="38.5" rx="1.8" ry="1.5" fill="#ffffff"/><ellipse cx="15.5" cy="45.0" rx="1.2" ry="1.2" fill="#ffffff" opacity="0.9"/><ellipse cx="7.5" cy="77.0" rx="2.2" ry="2.6" fill="#e6e6e6" opacity="0.8"/><ellipse cx="102.0" cy="71.0" rx="2.8" ry="1.5" fill="#ffffff" transform="rotate(-35 102 71)"/><ellipse cx="97.5" cy="76.5" rx="2.2" ry="1.5" fill="#ffffff" transform="rotate(-35 97.5 76.5)"/><ellipse cx="101.5" cy="87.0" rx="1.5" ry="2.0" fill="#ffffff"/></g><g filter="url(#rg)" opacity="0.68"><rect x="46.8" y="27.5" width="7.0" height="77.5" fill="#ffffff" rx="3.2"/></g><rect x="93.9" y="107.2" width="18.4" height="4.4" fill="#fff"/></g>
<g transform="translate(130.5 580.1)" clip-path="url(#tc)"><rect x="0.0" y="0.0" width="116.2" height="116.5" fill="#4a4a4a"/><g filter="url(#b6)"><ellipse cx="50.0" cy="6.0" rx="30.0" ry="26.0" fill="#707070" opacity="0.85"/><ellipse cx="104.0" cy="96.0" rx="16.0" ry="22.0" fill="#5c5c5c" opacity="0.7"/></g><g filter="url(#b15)"><path d="M52 15 C76 13 96 40 98 66 C96 92 74 108 58 107 C36 104 26 80 26 56 C26 32 36 17 52 15Z" fill="#828282"/></g><g filter="url(#b1)"><ellipse cx="66.5" cy="52.5" rx="5.0" ry="5.0" fill="#3e3e3e"/><ellipse cx="61.5" cy="69.0" rx="6.3" ry="6.0" fill="#383838"/><ellipse cx="44.0" cy="30.0" rx="2.8" ry="2.8" fill="#545454"/><ellipse cx="30.0" cy="68.0" rx="2.6" ry="2.4" fill="#545454"/></g><rect x="-50" y="-50" width="220" height="220" transform="rotate(27 58 58)" filter="url(#nz)" opacity="0.13"/><rect x="-50" y="-50" width="220" height="220" transform="rotate(27 58 58)" filter="url(#nzc)" opacity="0.05"/><g filter="url(#b4)"><path d="M-4 -4 L25 -4 C21 14 15 32 7 50 C5 54 0 58 -4 60Z" fill="#040404"/><path d="M72 -4 C80 8 90 20 98 32 C106 42 112 47 120 50 L120 -4Z" fill="#040404"/><path d="M-4 60 C2 80 5 100 8 120 L-4 120Z" fill="#080808" opacity="0.9"/><ellipse cx="60.0" cy="127.0" rx="70.0" ry="10.0" fill="#282828" opacity="0.6"/></g><g filter="url(#b1)"><ellipse cx="100.0" cy="66.0" rx="1.4" ry="1.4" fill="#e6e6e6" opacity="0.9"/></g></g>
<g transform="translate(248.6 580.1)" clip-path="url(#tc)"><rect x="0.0" y="0.0" width="116.2" height="116.5" fill="#4a4a4a"/><g filter="url(#b6)"><ellipse cx="50.0" cy="6.0" rx="30.0" ry="26.0" fill="#707070" opacity="0.85"/><ellipse cx="104.0" cy="96.0" rx="16.0" ry="22.0" fill="#5c5c5c" opacity="0.7"/></g><g filter="url(#b15)"><path d="M53 18 C77 16 97 40 99 66 C97 92 75 108 59 107 C37 104 27 80 27 56 C27 32 37 20 53 18Z" fill="#787878"/></g><g filter="url(#b1)"><ellipse cx="67.5" cy="52.5" rx="5.0" ry="5.0" fill="#3e3e3e"/><ellipse cx="62.5" cy="69.0" rx="6.3" ry="6.0" fill="#383838"/><ellipse cx="45.0" cy="30.0" rx="2.8" ry="2.8" fill="#545454"/><ellipse cx="31.0" cy="68.0" rx="2.6" ry="2.4" fill="#545454"/></g><rect x="-50" y="-50" width="220" height="220" transform="rotate(27 58 58)" filter="url(#nz)" opacity="0.13"/><rect x="-50" y="-50" width="220" height="220" transform="rotate(27 58 58)" filter="url(#nzc)" opacity="0.05"/><g filter="url(#b4)"><path d="M-4 -4 L25 -4 C21 14 15 32 7 50 C5 54 0 58 -4 60Z" fill="#040404"/><path d="M72 -4 C80 8 90 20 98 32 C106 42 112 47 120 50 L120 -4Z" fill="#040404"/><path d="M-4 60 C2 80 5 100 8 120 L-4 120Z" fill="#080808" opacity="0.9"/><ellipse cx="60.0" cy="127.0" rx="70.0" ry="10.0" fill="#282828" opacity="0.6"/></g><g filter="url(#b1)"><ellipse cx="105.0" cy="85.0" rx="1.6" ry="1.6" fill="#f0f0f0" opacity="0.9"/></g><g filter="url(#rg)" opacity="0.55"><rect x="52.4" y="32.0" width="5.0" height="76.0" fill="#ffffff" rx="2.5"/></g></g>
<g transform="translate(366.7 580.1)" clip-path="url(#tc)"><rect x="0.0" y="0.0" width="116.2" height="116.5" fill="#4a4a4a"/><g filter="url(#b6)"><ellipse cx="50.0" cy="6.0" rx="30.0" ry="26.0" fill="#707070" opacity="0.85"/><ellipse cx="104.0" cy="96.0" rx="16.0" ry="22.0" fill="#5c5c5c" opacity="0.7"/></g><g filter="url(#b15)"><path d="M52 20 C76 18 96 40 98 66 C96 92 74 108 58 107 C36 104 26 80 26 56 C26 32 36 22 52 20Z" fill="#707070"/></g><g filter="url(#b1)"><ellipse cx="68.5" cy="52.5" rx="5.0" ry="5.0" fill="#3e3e3e"/><ellipse cx="63.5" cy="69.0" rx="6.3" ry="6.0" fill="#383838"/><ellipse cx="46.0" cy="30.0" rx="2.8" ry="2.8" fill="#545454"/><ellipse cx="32.0" cy="68.0" rx="2.6" ry="2.4" fill="#545454"/></g><rect x="-50" y="-50" width="220" height="220" transform="rotate(27 58 58)" filter="url(#nz)" opacity="0.13"/><rect x="-50" y="-50" width="220" height="220" transform="rotate(27 58 58)" filter="url(#nzc)" opacity="0.05"/><g filter="url(#b4)"><path d="M-4 -4 L25 -4 C21 14 15 32 7 50 C5 54 0 58 -4 60Z" fill="#040404"/><path d="M72 -4 C80 8 90 20 98 32 C106 42 112 47 120 50 L120 -4Z" fill="#040404"/><path d="M-4 60 C2 80 5 100 8 120 L-4 120Z" fill="#080808" opacity="0.9"/><ellipse cx="60.0" cy="127.0" rx="70.0" ry="10.0" fill="#282828" opacity="0.6"/></g><g filter="url(#b1)"><ellipse cx="105.0" cy="85.0" rx="1.6" ry="1.6" fill="#f0f0f0" opacity="0.9"/></g><g filter="url(#rg)"><rect x="50.4" y="34.0" width="8.8" height="76.0" fill="#ffffff" rx="3.2"/></g></g>
<g transform="translate(484.8 580.1)" clip-path="url(#tc)"><rect x="0.0" y="0.0" width="116.2" height="116.5" fill="#4a4a4a"/><g filter="url(#b6)"><ellipse cx="50.0" cy="6.0" rx="30.0" ry="26.0" fill="#707070" opacity="0.85"/><ellipse cx="104.0" cy="96.0" rx="16.0" ry="22.0" fill="#5c5c5c" opacity="0.7"/></g><g filter="url(#b15)"><path d="M50 21 C74 19 94 40 96 66 C94 92 72 108 56 107 C34 104 24 80 24 56 C24 32 34 23 50 21Z" fill="#6e6e6e"/></g><g filter="url(#b1)"><ellipse cx="66.5" cy="52.5" rx="5.0" ry="5.0" fill="#3e3e3e"/><ellipse cx="61.5" cy="69.0" rx="6.3" ry="6.0" fill="#383838"/><ellipse cx="44.0" cy="30.0" rx="2.8" ry="2.8" fill="#545454"/><ellipse cx="30.0" cy="68.0" rx="2.6" ry="2.4" fill="#545454"/></g><rect x="-50" y="-50" width="220" height="220" transform="rotate(27 58 58)" filter="url(#nz)" opacity="0.13"/><rect x="-50" y="-50" width="220" height="220" transform="rotate(27 58 58)" filter="url(#nzc)" opacity="0.05"/><g filter="url(#b4)"><path d="M-4 -4 L25 -4 C21 14 15 32 7 50 C5 54 0 58 -4 60Z" fill="#040404"/><path d="M72 -4 C80 8 90 20 98 32 C106 42 112 47 120 50 L120 -4Z" fill="#040404"/><path d="M-4 60 C2 80 5 100 8 120 L-4 120Z" fill="#080808" opacity="0.9"/><ellipse cx="60.0" cy="127.0" rx="70.0" ry="10.0" fill="#282828" opacity="0.6"/></g><g filter="url(#b1)"><ellipse cx="105.0" cy="85.0" rx="1.6" ry="1.6" fill="#f0f0f0" opacity="0.9"/></g><g filter="url(#rg)"><rect x="49.8" y="37.0" width="9.5" height="75.5" fill="#ffffff" rx="3.2"/></g></g>
<g transform="translate(602.9 580.1)" clip-path="url(#tc)"><rect x="0.0" y="0.0" width="116.2" height="116.5" fill="#4a4a4a"/><g filter="url(#b6)"><ellipse cx="50.0" cy="6.0" rx="30.0" ry="26.0" fill="#707070" opacity="0.85"/><ellipse cx="104.0" cy="96.0" rx="16.0" ry="22.0" fill="#5c5c5c" opacity="0.7"/></g><g filter="url(#b15)"><path d="M52 21 C76 19 96 40 98 66 C96 92 74 108 58 107 C36 104 26 80 26 56 C26 32 36 23 52 21Z" fill="#707070"/></g><g filter="url(#b1)"><ellipse cx="68.5" cy="52.5" rx="5.0" ry="5.0" fill="#3e3e3e"/><ellipse cx="63.5" cy="69.0" rx="6.3" ry="6.0" fill="#383838"/><ellipse cx="46.0" cy="30.0" rx="2.8" ry="2.8" fill="#545454"/><ellipse cx="32.0" cy="68.0" rx="2.6" ry="2.4" fill="#545454"/></g><rect x="-50" y="-50" width="220" height="220" transform="rotate(27 58 58)" filter="url(#nz)" opacity="0.13"/><rect x="-50" y="-50" width="220" height="220" transform="rotate(27 58 58)" filter="url(#nzc)" opacity="0.05"/><g filter="url(#b4)"><path d="M-4 -4 L25 -4 C21 14 15 32 7 50 C5 54 0 58 -4 60Z" fill="#040404"/><path d="M72 -4 C80 8 90 20 98 32 C106 42 112 47 120 50 L120 -4Z" fill="#040404"/><path d="M-4 60 C2 80 5 100 8 120 L-4 120Z" fill="#080808" opacity="0.9"/><ellipse cx="60.0" cy="127.0" rx="70.0" ry="10.0" fill="#282828" opacity="0.6"/></g><g filter="url(#b1)"><ellipse cx="105.0" cy="85.0" rx="1.6" ry="1.6" fill="#f0f0f0" opacity="0.9"/></g><g filter="url(#rg)"><path d="M52.7 36.0 L60.7 36.0 L54.5 110.0 L46.5 110.0Z" fill="#ffffff" stroke="#ffffff" stroke-width="1.5" stroke-linejoin="round"/></g><rect x="93.9" y="105.6" width="18.4" height="4.4" fill="#fff"/></g>
<g transform="translate(88.6 910.65)"><svg x="0" y="0" width="65.5" height="223.1" overflow="hidden"><rect x="0.0" y="0.0" width="65.5" height="223.1" fill="#070707"/><g filter="url(#b2)"><path d="M20.5 32.5 L20.1 45.2 L20.9 60.4 L21.1 75.5 L20.1 90.7 L17.6 105.9 L19.3 121.1 L21.6 136.3 L19.5 151.5 L18.1 166.6 L21.5 181.8 L21.6 197.0 L43.7 197.0 L43.7 181.8 L42.5 166.6 L43.4 151.5 L42.3 136.3 L43.3 121.1 L43.5 105.9 L45.6 90.7 L43.5 75.5 L43.7 60.4 L43.2 45.2 L43.5 27.0Z" fill="#828282"/></g><g filter="url(#b2)"><ellipse cx="29.8" cy="41.3" rx="8.7" ry="10.9" fill="#ffffff" opacity="0.49647300768120584" transform="rotate(19.507444079064193 29.778059048032873 41.27130264942147)"/><ellipse cx="33.5" cy="67.6" rx="11.1" ry="12.4" fill="#ffffff" opacity="0.42980807194361764" transform="rotate(22.361007500653045 33.54963760283957 67.55371529067678)"/><ellipse cx="29.7" cy="89.9" rx="10.2" ry="13.1" fill="#ffffff" opacity="0.4934444318959942" transform="rotate(1.325067082959908 29.73380179351304 89.85258032917079)"/><ellipse cx="30.4" cy="114.4" rx="10.5" ry="12.5" fill="#ffffff" opacity="0.3339563659116078" transform="rotate(22.24389071557537 30.439597945856917 114.44401141848412)"/><ellipse cx="34.0" cy="138.7" rx="9.3" ry="12.9" fill="#ffffff" opacity="0.4022246177654025" transform="rotate(-22.18985069219293 33.98758775309183 138.72916226386016)"/><ellipse cx="33.5" cy="162.8" rx="9.3" ry="12.1" fill="#ffffff" opacity="0.3621636679269571" transform="rotate(19.359240676478493 33.45976615623108 162.82045187880928)"/><ellipse cx="34.4" cy="184.4" rx="9.8" ry="12.4" fill="#ffffff" opacity="0.38193921227149125" transform="rotate(-23.163956020003074 34.4138142011313 184.38887319100192)"/><ellipse cx="24.0" cy="64.3" rx="3.3" ry="2.6" fill="#ffffff" opacity="0.2953083175961175"/><ellipse cx="27.6" cy="78.7" rx="3.3" ry="3.1" fill="#ffffff" opacity="0.2922165545449436"/><ellipse cx="33.3" cy="121.5" rx="2.5" ry="2.8" fill="#ffffff" opacity="0.21610263231845642"/><ellipse cx="32.1" cy="110.3" rx="3.2" ry="3.3" fill="#ffffff" opacity="0.22947530193770488"/><ellipse cx="29.8" cy="125.0" rx="4.2" ry="3.5" fill="#ffffff" opacity="0.3389780994002781"/><ellipse cx="24.4" cy="150.1" rx="3.5" ry="3.6" fill="#ffffff" opacity="0.3573815052707938"/><ellipse cx="35.8" cy="91.3" rx="3.3" ry="4.4" fill="#ffffff" opacity="0.34345768931936455"/><ellipse cx="41.3" cy="112.0" rx="4.4" ry="2.9" fill="#000000" opacity="0.3119928666646849"/><ellipse cx="34.6" cy="138.0" rx="3.4" ry="2.4" fill="#000000" opacity="0.3662417577045213"/><ellipse cx="36.6" cy="93.6" rx="3.7" ry="3.4" fill="#000000" opacity="0.35318576106658567"/><ellipse cx="41.7" cy="172.7" rx="3.0" ry="2.8" fill="#000000" opacity="0.3743962248965864"/><ellipse cx="41.1" cy="182.9" rx="3.2" ry="2.5" fill="#000000" opacity="0.3306193176583245"/><ellipse cx="27.1" cy="56.9" rx="3.8" ry="3.1" fill="#000000" opacity="0.29839248908055166"/><ellipse cx="24.0" cy="62.0" rx="3.0" ry="3.4" fill="#ffffff" opacity="0.85"/></g><rect x="-40" y="-10" width="160" height="250" transform="rotate(19 30 110)" filter="url(#nzd)" opacity="0.3"/><rect x="21.6" y="129.70000000000002" width="17.9" height="2.2" rx="1" fill="#f4e22c"/></svg></g>
<g transform="translate(160.2 910.65)"><svg x="0" y="0" width="66.6" height="223.1" overflow="hidden"><rect x="0.0" y="0.0" width="66.6" height="223.1" fill="#070707"/><g filter="url(#b2)"><path d="M18.5 33.0 L16.6 45.2 L17.0 60.4 L18.7 75.5 L19.8 90.7 L17.2 105.9 L18.9 121.1 L17.6 136.3 L17.6 151.5 L17.3 166.6 L16.0 181.8 L16.0 197.0 L50.6 197.0 L48.1 181.8 L49.6 166.6 L52.3 151.5 L51.0 136.3 L49.0 121.1 L48.1 105.9 L50.1 90.7 L49.6 75.5 L49.6 60.4 L51.6 45.2 L49.5 27.0Z" fill="#7c7c7c"/></g><g filter="url(#b2)"><ellipse cx="34.0" cy="40.4" rx="12.9" ry="12.9" fill="#ffffff" opacity="0.32825164789906613" transform="rotate(13.802505667380316 33.993735737711624 40.39003279833518)"/><ellipse cx="37.1" cy="67.5" rx="13.9" ry="13.0" fill="#ffffff" opacity="0.3592950691710318" transform="rotate(22.970930261865306 37.130454626954865 67.52434229587055)"/><ellipse cx="35.5" cy="91.5" rx="15.4" ry="12.5" fill="#ffffff" opacity="0.5434909884368783" transform="rotate(-5.710241130906859 35.53518773523352 91.54858774364065)"/><ellipse cx="32.0" cy="111.8" rx="15.1" ry="13.0" fill="#ffffff" opacity="0.4083076941287428" transform="rotate(10.682732904199469 31.955197770672655 111.8244149043814)"/><ellipse cx="32.9" cy="139.0" rx="13.3" ry="13.4" fill="#ffffff" opacity="0.4048357731251804" transform="rotate(21.237791865904903 32.943663449398755 138.96057796800648)"/><ellipse cx="37.2" cy="160.2" rx="12.6" ry="11.8" fill="#ffffff" opacity="0.42084956735650086" transform="rotate(-22.300511680475875 37.23833104622602 160.2295264213277)"/><ellipse cx="37.1" cy="186.3" rx="13.7" ry="12.7" fill="#ffffff" opacity="0.3807441174339669" transform="rotate(-9.707210506105184 37.08149879784798 186.3223085685701)"/><ellipse cx="38.2" cy="115.6" rx="2.7" ry="4.5" fill="#ffffff" opacity="0.39788896616777325"/><ellipse cx="36.8" cy="177.5" rx="3.2" ry="3.4" fill="#ffffff" opacity="0.32733987690424826"/><ellipse cx="23.4" cy="44.8" rx="3.5" ry="2.9" fill="#ffffff" opacity="0.3502033278549938"/><ellipse cx="37.3" cy="99.6" rx="3.5" ry="3.9" fill="#ffffff" opacity="0.22566254812108655"/><ellipse cx="40.9" cy="163.7" rx="2.9" ry="2.8" fill="#ffffff" opacity="0.3506449191672669"/><ellipse cx="38.0" cy="158.3" rx="4.5" ry="3.9" fill="#ffffff" opacity="0.3849139660234395"/><ellipse cx="26.7" cy="98.6" rx="4.3" ry="3.9" fill="#ffffff" opacity="0.3285596264405409"/><ellipse cx="31.0" cy="75.4" rx="4.7" ry="2.1" fill="#000000" opacity="0.37955387103124594"/><ellipse cx="43.8" cy="176.9" rx="2.6" ry="2.8" fill="#000000" opacity="0.34486298564603424"/><ellipse cx="31.2" cy="178.0" rx="4.2" ry="3.3" fill="#000000" opacity="0.20850021750092948"/><ellipse cx="47.1" cy="67.2" rx="3.3" ry="2.6" fill="#000000" opacity="0.35195250831822383"/><ellipse cx="22.2" cy="104.7" rx="4.6" ry="2.9" fill="#000000" opacity="0.2643575629557934"/><ellipse cx="35.9" cy="64.6" rx="2.7" ry="2.7" fill="#000000" opacity="0.24885716981362663"/><ellipse cx="22.0" cy="62.0" rx="3.0" ry="3.4" fill="#ffffff" opacity="0.85"/></g><rect x="-40" y="-10" width="160" height="250" transform="rotate(19 30 110)" filter="url(#nzd)" opacity="0.3"/><rect x="23.4" y="129.70000000000002" width="17.2" height="2.2" rx="1" fill="#f4e22c"/></svg></g>
<g transform="translate(233.1 910.65)"><svg x="0" y="0" width="65.9" height="223.1" overflow="hidden"><rect x="0.0" y="0.0" width="65.9" height="223.1" fill="#070707"/><g filter="url(#b2)"><path d="M20.0 36.0 L18.6 45.2 L20.1 60.4 L21.0 75.5 L17.2 90.7 L18.7 105.9 L18.4 121.1 L17.5 136.3 L20.1 151.5 L20.9 166.6 L19.8 181.8 L17.3 197.0 L47.8 197.0 L45.2 181.8 L47.6 166.6 L46.1 151.5 L46.4 136.3 L47.9 121.1 L45.3 105.9 L47.9 90.7 L48.9 75.5 L45.8 60.4 L48.6 45.2 L46.5 28.0Z" fill="#8a8a8a"/></g><g filter="url(#b2)"><ellipse cx="33.4" cy="40.6" rx="12.9" ry="12.4" fill="#ffffff" opacity="0.42205366308658976" transform="rotate(-19.937270045402727 33.41972246929785 40.623072864243184)"/><ellipse cx="31.5" cy="64.3" rx="13.1" ry="12.8" fill="#ffffff" opacity="0.35903213866129446" transform="rotate(-22.607085534949917 31.484717816938055 64.28805357451785)"/><ellipse cx="36.5" cy="91.5" rx="11.8" ry="11.6" fill="#ffffff" opacity="0.44312395888960665" transform="rotate(19.779423287954025 36.512382336419904 91.53045523433101)"/><ellipse cx="35.2" cy="112.5" rx="11.7" ry="12.3" fill="#ffffff" opacity="0.5356960167680161" transform="rotate(-24.431569423925087 35.23720573912853 112.50422079523122)"/><ellipse cx="30.4" cy="136.6" rx="10.8" ry="13.1" fill="#ffffff" opacity="0.3274658684519014" transform="rotate(22.739634588570738 30.449380261880787 136.55610713609428)"/><ellipse cx="34.0" cy="160.6" rx="11.7" ry="11.2" fill="#ffffff" opacity="0.3769187065275248" transform="rotate(-15.07877889731048 33.99305540365312 160.63939200720645)"/><ellipse cx="29.8" cy="184.4" rx="12.0" ry="11.5" fill="#ffffff" opacity="0.4769257322075961" transform="rotate(2.3677963858346764 29.802590039327836 184.3950589874169)"/><ellipse cx="40.2" cy="182.7" rx="3.1" ry="3.8" fill="#ffffff" opacity="0.35641164356675975"/><ellipse cx="29.2" cy="128.3" rx="4.0" ry="4.2" fill="#ffffff" opacity="0.3530463189028217"/><ellipse cx="33.2" cy="113.3" rx="3.3" ry="3.8" fill="#ffffff" opacity="0.3961577411479011"/><ellipse cx="23.4" cy="141.3" rx="3.9" ry="3.3" fill="#ffffff" opacity="0.20367110139093533"/><ellipse cx="28.5" cy="176.2" rx="4.0" ry="3.9" fill="#ffffff" opacity="0.38785189811961185"/><ellipse cx="41.4" cy="40.0" rx="3.4" ry="3.9" fill="#ffffff" opacity="0.35959307638211147"/><ellipse cx="32.7" cy="48.0" rx="3.7" ry="3.8" fill="#ffffff" opacity="0.28205701157704777"/><ellipse cx="21.7" cy="68.3" rx="2.9" ry="2.7" fill="#000000" opacity="0.36513302210350757"/><ellipse cx="24.8" cy="91.9" rx="3.0" ry="2.2" fill="#000000" opacity="0.23365481158947765"/><ellipse cx="34.4" cy="153.0" rx="4.9" ry="3.4" fill="#000000" opacity="0.3932126715065987"/><ellipse cx="34.0" cy="153.1" rx="3.2" ry="3.0" fill="#000000" opacity="0.3693162981169439"/><ellipse cx="28.1" cy="70.9" rx="3.1" ry="2.9" fill="#000000" opacity="0.3336645032156734"/><ellipse cx="31.4" cy="73.9" rx="3.7" ry="2.2" fill="#000000" opacity="0.3597837926539583"/><ellipse cx="23.5" cy="62.0" rx="3.0" ry="3.4" fill="#ffffff" opacity="0.85"/></g><rect x="-40" y="-10" width="160" height="250" transform="rotate(19 30 110)" filter="url(#nzd)" opacity="0.3"/><rect x="23.2" y="129.70000000000002" width="17.6" height="2.2" rx="1" fill="#f4e22c"/></svg></g>
<g transform="translate(305.6 910.65)"><svg x="0" y="0" width="66.1" height="223.1" overflow="hidden"><rect x="0.0" y="0.0" width="66.1" height="223.1" fill="#070707"/><g filter="url(#b2)"><path d="M20.5 36.0 L18.4 45.2 L21.5 60.4 L21.0 75.5 L17.6 90.7 L20.0 105.9 L19.4 121.1 L21.2 136.3 L20.4 151.5 L20.9 166.6 L19.6 181.8 L19.4 197.0 L44.4 197.0 L45.3 181.8 L44.2 166.6 L43.2 151.5 L46.0 136.3 L44.8 121.1 L45.5 105.9 L41.7 90.7 L44.6 75.5 L41.6 60.4 L42.9 45.2 L43.0 28.0Z" fill="#8e8e8e"/></g><g filter="url(#b2)"><ellipse cx="34.4" cy="42.8" rx="8.7" ry="13.0" fill="#ffffff" opacity="0.5297658972943512" transform="rotate(-21.258653538740468 34.396906505665335 42.77577396717)"/><ellipse cx="31.9" cy="64.7" rx="9.5" ry="13.2" fill="#ffffff" opacity="0.3351112434963669" transform="rotate(-24.203077630574793 31.947746505932656 64.66991727235387)"/><ellipse cx="33.1" cy="91.1" rx="9.7" ry="11.7" fill="#ffffff" opacity="0.44316347662168665" transform="rotate(19.906681736477978 33.11380569279012 91.0579902980164)"/><ellipse cx="31.6" cy="114.5" rx="8.7" ry="11.8" fill="#ffffff" opacity="0.4267060030123168" transform="rotate(11.808865033080664 31.632798449007947 114.46137431542263)"/><ellipse cx="33.4" cy="138.9" rx="10.6" ry="13.1" fill="#ffffff" opacity="0.44828262712724176" transform="rotate(-16.48855327896171 33.39096915933496 138.89720811350435)"/><ellipse cx="31.6" cy="162.9" rx="10.9" ry="12.5" fill="#ffffff" opacity="0.4509738902200491" transform="rotate(0.08513757216021389 31.620855310392376 162.923018827526)"/><ellipse cx="33.7" cy="183.9" rx="8.6" ry="12.4" fill="#ffffff" opacity="0.35927005413004287" transform="rotate(-16.653463880618183 33.65617341114093 183.9387505256021)"/><ellipse cx="34.4" cy="186.5" rx="3.8" ry="3.3" fill="#ffffff" opacity="0.2590162519230426"/><ellipse cx="36.7" cy="146.8" rx="3.9" ry="4.4" fill="#ffffff" opacity="0.25120174867518563"/><ellipse cx="39.3" cy="97.5" rx="3.6" ry="2.6" fill="#ffffff" opacity="0.32157903341674354"/><ellipse cx="37.8" cy="84.8" rx="2.6" ry="3.6" fill="#ffffff" opacity="0.3541674385893084"/><ellipse cx="28.2" cy="77.1" rx="2.8" ry="3.6" fill="#ffffff" opacity="0.33366317076901"/><ellipse cx="30.2" cy="173.0" rx="3.5" ry="4.4" fill="#ffffff" opacity="0.3343817078506349"/><ellipse cx="26.1" cy="158.7" rx="2.7" ry="4.2" fill="#ffffff" opacity="0.3134752728848203"/><ellipse cx="24.1" cy="84.6" rx="3.4" ry="2.6" fill="#000000" opacity="0.2482462765676381"/><ellipse cx="23.1" cy="83.1" rx="4.6" ry="2.7" fill="#000000" opacity="0.26752931122345475"/><ellipse cx="25.4" cy="182.0" rx="2.5" ry="2.2" fill="#000000" opacity="0.20113095305302173"/><ellipse cx="35.5" cy="59.8" rx="2.7" ry="3.4" fill="#000000" opacity="0.22647768879447533"/><ellipse cx="29.7" cy="76.4" rx="4.9" ry="3.0" fill="#000000" opacity="0.2531263776192049"/><ellipse cx="22.2" cy="62.3" rx="4.1" ry="2.5" fill="#000000" opacity="0.3310199016159317"/><ellipse cx="24.0" cy="62.0" rx="3.0" ry="3.4" fill="#ffffff" opacity="0.85"/></g><rect x="-40" y="-10" width="160" height="250" transform="rotate(19 30 110)" filter="url(#nzd)" opacity="0.3"/><rect x="22.7" y="129.70000000000002" width="17.7" height="2.2" rx="1" fill="#f4e22c"/><rect x="35.3" y="211.6" width="23.5" height="4.5" fill="#fff"/></svg></g>
<g transform="translate(88.6 1305.5)"><svg x="0" y="0" width="65.5" height="223.1" overflow="hidden"><rect x="0.0" y="0.0" width="65.5" height="223.1" fill="#070707"/><g filter="url(#b2)"><path d="M21.0 26.5 L21.4 41.5 L21.5 56.5 L21.9 71.5 L20.9 86.5 L18.7 101.5 L21.9 116.5 L19.9 131.5 L21.6 146.5 L20.0 161.5 L18.4 176.5 L21.8 191.5 L46.3 191.5 L48.1 176.5 L47.1 161.5 L46.8 146.5 L45.6 131.5 L48.9 116.5 L47.8 101.5 L47.0 86.5 L48.5 71.5 L45.2 56.5 L46.3 41.5 L46.0 26.5Z" fill="#7c7c7c"/></g><g filter="url(#b2)"><ellipse cx="34.6" cy="37.0" rx="11.8" ry="11.5" fill="#ffffff" opacity="0.4680841719135252" transform="rotate(1.8730959291205878 34.63656974973927 36.9794204305324)"/><ellipse cx="33.8" cy="57.7" rx="10.9" ry="11.1" fill="#ffffff" opacity="0.38533743422103456" transform="rotate(-23.65532803747636 33.76564338332037 57.66225921837193)"/><ellipse cx="31.5" cy="76.8" rx="10.0" ry="9.8" fill="#ffffff" opacity="0.353489259789835" transform="rotate(-21.191552609034602 31.457351726926543 76.78619248717293)"/><ellipse cx="33.0" cy="99.7" rx="9.5" ry="10.0" fill="#ffffff" opacity="0.437970086634971" transform="rotate(-19.652202094756287 33.004808651785766 99.69409465282982)"/><ellipse cx="35.4" cy="121.0" rx="10.0" ry="9.4" fill="#ffffff" opacity="0.5100667435753896" transform="rotate(10.925910716723479 35.446568048908105 120.97342424084366)"/><ellipse cx="32.6" cy="138.6" rx="11.2" ry="9.6" fill="#ffffff" opacity="0.4411086787270674" transform="rotate(-3.7113251016061604 32.57588164488807 138.55487686468783)"/><ellipse cx="36.0" cy="160.6" rx="11.3" ry="11.7" fill="#ffffff" opacity="0.45161361484019946" transform="rotate(-14.093854755252755 35.98133367086602 160.55870144789756)"/><ellipse cx="35.7" cy="182.4" rx="11.7" ry="11.2" fill="#ffffff" opacity="0.4070425678726078" transform="rotate(-24.46741360545412 35.74201169542999 182.43361502044468)"/><ellipse cx="24.4" cy="57.1" rx="3.3" ry="2.7" fill="#ffffff" opacity="0.3188512632271893"/><ellipse cx="36.2" cy="111.5" rx="2.7" ry="2.7" fill="#ffffff" opacity="0.3696136561790098"/><ellipse cx="27.7" cy="117.7" rx="3.9" ry="3.9" fill="#ffffff" opacity="0.3747648231372301"/><ellipse cx="25.6" cy="175.5" rx="3.4" ry="3.4" fill="#ffffff" opacity="0.21354749221511818"/><ellipse cx="32.3" cy="181.7" rx="2.6" ry="3.8" fill="#ffffff" opacity="0.22762452300751274"/><ellipse cx="24.1" cy="181.4" rx="4.1" ry="4.0" fill="#ffffff" opacity="0.398671350894005"/><ellipse cx="40.9" cy="164.0" rx="3.0" ry="4.4" fill="#ffffff" opacity="0.2745908030623994"/><ellipse cx="36.6" cy="166.3" rx="2.8" ry="2.5" fill="#000000" opacity="0.22317320537444274"/><ellipse cx="28.8" cy="87.3" rx="3.9" ry="2.8" fill="#000000" opacity="0.3326407237298754"/><ellipse cx="34.9" cy="77.2" rx="3.1" ry="3.5" fill="#000000" opacity="0.24414960479826736"/><ellipse cx="32.9" cy="66.1" rx="3.5" ry="2.4" fill="#000000" opacity="0.25041183046158166"/><ellipse cx="42.9" cy="46.7" rx="4.2" ry="2.1" fill="#000000" opacity="0.356010838039658"/><ellipse cx="45.0" cy="136.3" rx="2.7" ry="2.7" fill="#000000" opacity="0.22154911196147842"/><ellipse cx="33.5" cy="40.0" rx="4.0" ry="5.0" fill="#ffffff" opacity="0.4"/></g><rect x="-40" y="-10" width="160" height="250" transform="rotate(19 30 110)" filter="url(#nzd)" opacity="0.3"/><rect x="21.8" y="131.5" width="17.5" height="2.2" rx="1" fill="#f4e22c"/></svg></g>
<g transform="translate(160.2 1305.5)"><svg x="0" y="0" width="66.6" height="223.1" overflow="hidden"><rect x="0.0" y="0.0" width="66.6" height="223.1" fill="#070707"/><g filter="url(#b2)"><path d="M18.0 26.5 L16.1 41.5 L15.9 56.5 L18.8 71.5 L17.5 86.5 L16.4 101.5 L15.3 116.5 L16.9 131.5 L15.2 146.5 L18.5 161.5 L17.8 176.5 L17.7 191.5 L50.2 191.5 L52.1 176.5 L52.9 161.5 L52.5 146.5 L49.0 131.5 L52.1 116.5 L48.9 101.5 L52.1 86.5 L49.1 71.5 L49.7 56.5 L51.8 41.5 L50.0 26.5Z" fill="#787878"/></g><g filter="url(#b2)"><ellipse cx="31.0" cy="35.2" rx="13.2" ry="10.0" fill="#ffffff" opacity="0.4087179578081557" transform="rotate(-12.54748058970579 30.996838271634935 35.15763225209357)"/><ellipse cx="34.2" cy="57.6" rx="15.2" ry="11.8" fill="#ffffff" opacity="0.3475369384541747" transform="rotate(-7.292399124048636 34.1665882393689 57.64686354002301)"/><ellipse cx="31.3" cy="79.5" rx="13.0" ry="11.3" fill="#ffffff" opacity="0.4035148626630829" transform="rotate(-21.46039057069831 31.285574308047423 79.5441241550996)"/><ellipse cx="37.2" cy="96.9" rx="15.0" ry="9.7" fill="#ffffff" opacity="0.5405088145752699" transform="rotate(1.4924667240461034 37.20772843862749 96.91908682665922)"/><ellipse cx="34.3" cy="120.3" rx="13.1" ry="10.5" fill="#ffffff" opacity="0.3767242893826739" transform="rotate(21.31305966359494 34.297947459609844 120.32605002275706)"/><ellipse cx="31.8" cy="139.6" rx="15.7" ry="9.4" fill="#ffffff" opacity="0.34989217990692373" transform="rotate(7.137192397666695 31.800341123427103 139.593576430234)"/><ellipse cx="31.4" cy="158.8" rx="13.5" ry="11.7" fill="#ffffff" opacity="0.5404696851016987" transform="rotate(19.507564908857965 31.403673121984085 158.80966532241)"/><ellipse cx="33.2" cy="181.8" rx="14.3" ry="10.5" fill="#ffffff" opacity="0.3278631607097933" transform="rotate(18.5911893521699 33.15843897658859 181.81389828889365)"/><ellipse cx="21.9" cy="97.1" rx="4.1" ry="3.2" fill="#ffffff" opacity="0.3741167316751792"/><ellipse cx="31.7" cy="100.8" rx="3.0" ry="3.1" fill="#ffffff" opacity="0.20044356509455008"/><ellipse cx="44.6" cy="169.0" rx="3.0" ry="3.7" fill="#ffffff" opacity="0.28989689563913984"/><ellipse cx="38.3" cy="65.9" rx="2.8" ry="2.7" fill="#ffffff" opacity="0.3213965680289077"/><ellipse cx="42.8" cy="44.9" rx="3.0" ry="3.4" fill="#ffffff" opacity="0.3074230325090729"/><ellipse cx="26.2" cy="64.8" rx="3.5" ry="4.1" fill="#ffffff" opacity="0.2741102703994811"/><ellipse cx="37.4" cy="167.1" rx="3.9" ry="2.9" fill="#ffffff" opacity="0.27618531187073736"/><ellipse cx="36.6" cy="167.8" rx="4.4" ry="2.1" fill="#000000" opacity="0.35822290794329636"/><ellipse cx="40.8" cy="163.7" rx="3.0" ry="3.4" fill="#000000" opacity="0.3717666215102198"/><ellipse cx="22.1" cy="138.5" rx="3.3" ry="3.3" fill="#000000" opacity="0.33538365752321087"/><ellipse cx="48.1" cy="153.0" rx="2.6" ry="2.1" fill="#000000" opacity="0.2649156456641602"/><ellipse cx="21.6" cy="45.7" rx="3.3" ry="2.3" fill="#000000" opacity="0.39271778957917136"/><ellipse cx="48.0" cy="73.9" rx="4.9" ry="2.9" fill="#000000" opacity="0.35669120844247537"/><ellipse cx="34.0" cy="40.0" rx="4.0" ry="5.0" fill="#ffffff" opacity="0.4"/></g><rect x="-40" y="-10" width="160" height="250" transform="rotate(19 30 110)" filter="url(#nzd)" opacity="0.3"/><rect x="24.6" y="131.5" width="17.0" height="2.2" rx="1" fill="#f4e22c"/></svg></g>
<g transform="translate(233.1 1305.5)"><svg x="0" y="0" width="65.9" height="223.1" overflow="hidden"><rect x="0.0" y="0.0" width="65.9" height="223.1" fill="#070707"/><g filter="url(#b2)"><path d="M18.0 26.5 L16.5 41.5 L19.2 56.5 L15.8 71.5 L15.0 86.5 L17.2 101.5 L17.3 116.5 L19.0 131.5 L18.8 146.5 L18.8 161.5 L15.1 176.5 L15.9 191.5 L50.7 191.5 L47.8 176.5 L50.5 161.5 L47.9 146.5 L48.7 131.5 L50.7 116.5 L49.3 101.5 L50.9 86.5 L48.6 71.5 L49.3 56.5 L49.4 41.5 L49.0 26.5Z" fill="#7c7c7c"/></g><g filter="url(#b2)"><ellipse cx="33.5" cy="36.6" rx="14.3" ry="9.4" fill="#ffffff" opacity="0.5127719523187415" transform="rotate(17.236356118473708 33.45310763932479 36.61213054382817)"/><ellipse cx="33.1" cy="58.5" rx="14.8" ry="10.6" fill="#ffffff" opacity="0.41717867927216656" transform="rotate(23.227773492834878 33.13460107998402 58.52290196992583)"/><ellipse cx="31.2" cy="76.9" rx="13.9" ry="9.5" fill="#ffffff" opacity="0.3373448266264185" transform="rotate(-7.446301862820498 31.158009528083518 76.93920217759437)"/><ellipse cx="34.6" cy="100.2" rx="13.0" ry="11.4" fill="#ffffff" opacity="0.5370797149452873" transform="rotate(17.536076937422962 34.5592564282642 100.21932102957736)"/><ellipse cx="31.6" cy="119.5" rx="14.5" ry="9.6" fill="#ffffff" opacity="0.5333174580198731" transform="rotate(11.28198094902082 31.57915292238266 119.47747873595749)"/><ellipse cx="35.6" cy="141.8" rx="15.1" ry="10.8" fill="#ffffff" opacity="0.4053635420155709" transform="rotate(-16.14402301820197 35.56979130419505 141.82590642661552)"/><ellipse cx="32.0" cy="161.9" rx="15.2" ry="11.5" fill="#ffffff" opacity="0.5248002276176864" transform="rotate(19.805418043735642 32.03328133568616 161.90564236283143)"/><ellipse cx="34.8" cy="180.1" rx="14.8" ry="9.9" fill="#ffffff" opacity="0.5023368352068097" transform="rotate(0.55217858732086 34.785467138584984 180.1257143171143)"/><ellipse cx="22.7" cy="74.1" rx="2.7" ry="3.2" fill="#ffffff" opacity="0.31190313770482364"/><ellipse cx="43.2" cy="70.5" rx="3.7" ry="3.7" fill="#ffffff" opacity="0.370345847867213"/><ellipse cx="22.2" cy="50.1" rx="3.4" ry="3.0" fill="#ffffff" opacity="0.3039769207023243"/><ellipse cx="23.1" cy="154.6" rx="2.6" ry="3.0" fill="#ffffff" opacity="0.29678322611096986"/><ellipse cx="43.2" cy="76.9" rx="4.3" ry="3.3" fill="#ffffff" opacity="0.336416991015991"/><ellipse cx="39.7" cy="100.5" rx="3.0" ry="3.9" fill="#ffffff" opacity="0.39675424818953575"/><ellipse cx="35.7" cy="82.2" rx="4.0" ry="4.1" fill="#ffffff" opacity="0.36550758760749935"/><ellipse cx="36.5" cy="120.0" rx="4.8" ry="3.5" fill="#000000" opacity="0.3360207219394848"/><ellipse cx="26.8" cy="43.7" rx="4.4" ry="3.4" fill="#000000" opacity="0.3112991792641213"/><ellipse cx="20.2" cy="85.8" rx="4.1" ry="2.4" fill="#000000" opacity="0.3979939462963883"/><ellipse cx="37.0" cy="110.3" rx="4.8" ry="2.7" fill="#000000" opacity="0.34573382587536416"/><ellipse cx="44.6" cy="122.6" rx="3.7" ry="3.3" fill="#000000" opacity="0.3961658049574667"/><ellipse cx="30.3" cy="78.6" rx="4.4" ry="2.4" fill="#000000" opacity="0.25618206204191674"/><ellipse cx="33.5" cy="40.0" rx="4.0" ry="5.0" fill="#ffffff" opacity="0.4"/></g><rect x="-40" y="-10" width="160" height="250" transform="rotate(19 30 110)" filter="url(#nzd)" opacity="0.3"/><rect x="23.7" y="131.5" width="17.1" height="2.2" rx="1" fill="#f4e22c"/></svg></g>
<g transform="translate(305.6 1305.5)"><svg x="0" y="0" width="66.1" height="223.1" overflow="hidden"><rect x="0.0" y="0.0" width="66.1" height="223.1" fill="#070707"/><g filter="url(#b2)"><path d="M18.5 25.5 L19.4 41.5 L20.3 56.5 L22.8 71.5 L22.3 86.5 L22.6 101.5 L21.9 116.5 L23.5 131.5 L22.3 146.5 L18.3 161.5 L16.9 176.5 L15.8 191.5 L48.6 191.5 L49.6 176.5 L49.9 161.5 L53.5 146.5 L52.8 131.5 L53.7 116.5 L55.7 101.5 L54.6 86.5 L50.5 71.5 L51.0 56.5 L51.6 41.5 L49.0 31.5Z" fill="#7c7c7c"/></g><g filter="url(#b2)"><ellipse cx="34.8" cy="37.2" rx="14.4" ry="9.7" fill="#ffffff" opacity="0.5163006975931816" transform="rotate(-5.375309048885601 34.79541632221804 37.16297903768771)"/><ellipse cx="34.2" cy="57.3" rx="15.1" ry="10.3" fill="#ffffff" opacity="0.5110632993242611" transform="rotate(-23.984422445764793 34.19116596343739 57.33613129295994)"/><ellipse cx="34.3" cy="77.6" rx="15.2" ry="9.5" fill="#ffffff" opacity="0.5077442963189585" transform="rotate(-3.4278926222713935 34.32062086031932 77.64228768454541)"/><ellipse cx="40.5" cy="97.9" rx="14.1" ry="11.4" fill="#ffffff" opacity="0.4442107833898009" transform="rotate(9.177645843290563 40.51485138457202 97.90234259982537)"/><ellipse cx="34.7" cy="120.0" rx="14.2" ry="10.6" fill="#ffffff" opacity="0.4201410347841249" transform="rotate(-3.021428626376771 34.73922557546198 120.0043779926219)"/><ellipse cx="36.9" cy="140.7" rx="14.9" ry="11.6" fill="#ffffff" opacity="0.44133439603217317" transform="rotate(17.383417296013512 36.908785311936256 140.745606615242)"/><ellipse cx="34.7" cy="160.0" rx="13.8" ry="10.7" fill="#ffffff" opacity="0.39976868250049846" transform="rotate(-8.708205451521533 34.721670424529144 159.98374802369062)"/><ellipse cx="33.8" cy="179.3" rx="14.9" ry="11.7" fill="#ffffff" opacity="0.47244420901941064" transform="rotate(-6.441269572121495 33.82965844312517 179.3389542165944)"/><ellipse cx="41.0" cy="179.5" rx="4.4" ry="3.8" fill="#ffffff" opacity="0.2897182301362696"/><ellipse cx="24.6" cy="74.8" rx="2.6" ry="4.0" fill="#ffffff" opacity="0.22596529115485928"/><ellipse cx="24.4" cy="129.8" rx="3.7" ry="4.2" fill="#ffffff" opacity="0.27625711414904003"/><ellipse cx="38.5" cy="127.0" rx="3.4" ry="3.5" fill="#ffffff" opacity="0.24504259759123548"/><ellipse cx="23.1" cy="181.1" rx="3.8" ry="2.8" fill="#ffffff" opacity="0.3106873804046971"/><ellipse cx="42.2" cy="137.5" rx="4.1" ry="4.3" fill="#ffffff" opacity="0.3273740959984254"/><ellipse cx="34.5" cy="55.0" rx="2.5" ry="2.9" fill="#ffffff" opacity="0.23479028805623547"/><ellipse cx="39.0" cy="85.6" rx="2.5" ry="2.9" fill="#000000" opacity="0.327292302010103"/><ellipse cx="32.0" cy="163.2" rx="4.3" ry="2.7" fill="#000000" opacity="0.3465321938549625"/><ellipse cx="27.0" cy="39.1" rx="5.0" ry="2.3" fill="#000000" opacity="0.22155212726718823"/><ellipse cx="46.1" cy="42.6" rx="4.7" ry="2.8" fill="#000000" opacity="0.2715082792603712"/><ellipse cx="26.1" cy="73.0" rx="4.8" ry="3.4" fill="#000000" opacity="0.29522367891137324"/><ellipse cx="30.9" cy="75.4" rx="4.9" ry="2.8" fill="#000000" opacity="0.3640329478105045"/><ellipse cx="33.8" cy="40.0" rx="4.0" ry="5.0" fill="#ffffff" opacity="0.4"/></g><rect x="-40" y="-10" width="160" height="250" transform="rotate(19 30 110)" filter="url(#nzd)" opacity="0.3"/><rect x="24" y="131.5" width="17.5" height="2.2" rx="1" fill="#f4e22c"/><rect x="35.3" y="211.4" width="23.5" height="4.5" fill="#fff"/></svg></g>
<line x1="838.75" y1="96.00" x2="838.75" y2="351.60" stroke="#000" stroke-width="3.2"/>
<line x1="830.20" y1="341.50" x2="1247.40" y2="341.50" stroke="#000" stroke-width="3.2"/>
<line x1="838.50" y1="341.50" x2="838.50" y2="351.60" stroke="#000" stroke-width="2.8"/>
<line x1="906.35" y1="341.50" x2="906.35" y2="351.60" stroke="#000" stroke-width="2.8"/>
<line x1="974.20" y1="341.50" x2="974.20" y2="351.60" stroke="#000" stroke-width="2.8"/>
<line x1="1042.05" y1="341.50" x2="1042.05" y2="351.60" stroke="#000" stroke-width="2.8"/>
<line x1="1109.90" y1="341.50" x2="1109.90" y2="351.60" stroke="#000" stroke-width="2.8"/>
<line x1="1177.75" y1="341.50" x2="1177.75" y2="351.60" stroke="#000" stroke-width="2.8"/>
<line x1="1245.60" y1="341.50" x2="1245.60" y2="351.60" stroke="#000" stroke-width="2.8"/>
<line x1="830.20" y1="116.75" x2="838.75" y2="116.75" stroke="#000" stroke-width="2.8"/>
<line x1="830.20" y1="172.95" x2="838.75" y2="172.95" stroke="#000" stroke-width="2.8"/>
<line x1="830.20" y1="229.15" x2="838.75" y2="229.15" stroke="#000" stroke-width="2.8"/>
<line x1="830.20" y1="285.35" x2="838.75" y2="285.35" stroke="#000" stroke-width="2.8"/>
<polyline points="838.75,341.75 848.75,120.00 858.75,155.00 868.75,192.50 878.75,220.00 889.25,242.50 899.50,256.25 910.00,265.00 920.00,270.50 930.00,275.00 940.00,278.75 950.00,281.25 960.00,283.00 970.00,283.75 980.00,284.50 990.00,285.50 1000.00,286.75 1010.00,287.50 1020.00,288.00 1030.00,288.75 1040.00,290.00 1050.00,291.50 1060.00,293.00 1070.00,294.25 1080.00,295.25 1090.00,296.00 1100.00,296.75 1110.00,297.25 1120.00,297.50 1130.00,297.50 1140.00,297.75 1150.00,298.00 1160.00,298.00 1170.00,298.50 1180.00,299.00 1190.00,299.50 1200.00,300.00 1210.00,300.00 1220.00,300.25 1230.00,300.50 1236.25,301.25" fill="none" stroke="#0c0c0c" stroke-width="2.3" stroke-linejoin="round"/>
<polyline points="838.75,341.75 848.75,142.50 858.75,153.75 868.75,183.00 878.75,211.00 889.25,235.00 899.50,249.50 910.00,260.00 920.00,267.50 930.00,273.75 940.00,278.75 950.00,283.00 960.00,287.00 970.00,290.75 980.00,294.25 990.00,297.50 1000.00,300.50 1010.00,303.00 1020.00,305.00 1030.00,306.50 1040.00,307.75 1050.00,309.00 1060.00,310.00 1070.00,311.00 1080.00,312.00 1090.00,313.00 1100.00,313.75 1110.00,314.25 1120.00,314.75 1130.00,315.25 1140.00,315.75 1150.00,316.50 1160.00,317.25 1170.00,318.00 1180.00,318.50 1190.00,319.00 1200.00,319.50 1210.00,319.75 1220.00,320.00 1230.00,320.25 1236.25,320.50" fill="none" stroke="#f5200f" stroke-width="2.2" stroke-linejoin="round"/>
<path d="M848.75 103.75V136.25M843.25 103.75h11.00M843.25 136.25h11.00M858.75 140.00V170.00M853.25 140.00h11.00M853.25 170.00h11.00M868.75 178.75V206.25M863.25 178.75h11.00M863.25 206.25h11.00M878.75 208.00V232.00M873.25 208.00h11.00M873.25 232.00h11.00M889.25 232.00V253.00M883.75 232.00h11.00M883.75 253.00h11.00M899.50 247.25V265.25M894.00 247.25h11.00M894.00 265.25h11.00M910.00 257.50V272.50M904.50 257.50h11.00M904.50 272.50h11.00M920.00 264.00V277.00M914.50 264.00h11.00M914.50 277.00h11.00M930.00 269.00V281.00M924.50 269.00h11.00M924.50 281.00h11.00M940.00 273.25V284.25M934.50 273.25h11.00M934.50 284.25h11.00M950.00 275.75V286.75M944.50 275.75h11.00M944.50 286.75h11.00M960.00 277.50V288.50M954.50 277.50h11.00M954.50 288.50h11.00M970.00 278.25V289.25M964.50 278.25h11.00M964.50 289.25h11.00M980.00 279.00V290.00M974.50 279.00h11.00M974.50 290.00h11.00M990.00 280.00V291.00M984.50 280.00h11.00M984.50 291.00h11.00M1000.00 281.25V292.25M994.50 281.25h11.00M994.50 292.25h11.00M1010.00 282.00V293.00M1004.50 282.00h11.00M1004.50 293.00h11.00M1020.00 282.50V293.50M1014.50 282.50h11.00M1014.50 293.50h11.00M1030.00 283.25V294.25M1024.50 283.25h11.00M1024.50 294.25h11.00M1040.00 284.50V295.50M1034.50 284.50h11.00M1034.50 295.50h11.00M1050.00 286.00V297.00M1044.50 286.00h11.00M1044.50 297.00h11.00M1060.00 287.50V298.50M1054.50 287.50h11.00M1054.50 298.50h11.00M1070.00 288.75V299.75M1064.50 288.75h11.00M1064.50 299.75h11.00M1080.00 289.75V300.75M1074.50 289.75h11.00M1074.50 300.75h11.00M1090.00 290.50V301.50M1084.50 290.50h11.00M1084.50 301.50h11.00M1100.00 291.25V302.25M1094.50 291.25h11.00M1094.50 302.25h11.00M1110.00 291.75V302.75M1104.50 291.75h11.00M1104.50 302.75h11.00M1120.00 292.00V303.00M1114.50 292.00h11.00M1114.50 303.00h11.00M1130.00 292.00V303.00M1124.50 292.00h11.00M1124.50 303.00h11.00M1140.00 292.25V303.25M1134.50 292.25h11.00M1134.50 303.25h11.00M1150.00 292.50V303.50M1144.50 292.50h11.00M1144.50 303.50h11.00M1160.00 292.50V303.50M1154.50 292.50h11.00M1154.50 303.50h11.00M1170.00 292.75V304.25M1164.50 292.75h11.00M1164.50 304.25h11.00M1180.00 293.25V304.75M1174.50 293.25h11.00M1174.50 304.75h11.00M1190.00 293.50V305.50M1184.50 293.50h11.00M1184.50 305.50h11.00M1200.00 294.00V306.00M1194.50 294.00h11.00M1194.50 306.00h11.00M1210.00 294.00V306.00M1204.50 294.00h11.00M1204.50 306.00h11.00M1220.00 294.00V306.50M1214.50 294.00h11.00M1214.50 306.50h11.00M1230.00 294.25V306.75M1224.50 294.25h11.00M1224.50 306.75h11.00M1236.25 295.00V307.50M1230.75 295.00h11.00M1230.75 307.50h11.00" fill="none" stroke="#141414" stroke-width="1.25"/>
<path d="M848.75 133.00V152.00M843.25 133.00h11.00M843.25 152.00h11.00M858.75 145.00V162.50M853.25 145.00h11.00M853.25 162.50h11.00M868.75 175.00V191.00M863.25 175.00h11.00M863.25 191.00h11.00M878.75 203.50V218.50M873.25 203.50h11.00M873.25 218.50h11.00M889.25 228.25V241.75M883.75 228.25h11.00M883.75 241.75h11.00M899.50 243.50V255.50M894.00 243.50h11.00M894.00 255.50h11.00M910.00 254.50V265.50M904.50 254.50h11.00M904.50 265.50h11.00M920.00 262.50V272.50M914.50 262.50h11.00M914.50 272.50h11.00M930.00 269.25V278.25M924.50 269.25h11.00M924.50 278.25h11.00M940.00 274.75V282.75M934.50 274.75h11.00M934.50 282.75h11.00M950.00 279.50V286.50M944.50 279.50h11.00M944.50 286.50h11.00M960.00 283.75V290.25M954.50 283.75h11.00M954.50 290.25h11.00M970.00 287.75V293.75M964.50 287.75h11.00M964.50 293.75h11.00M980.00 291.50V297.00M974.50 291.50h11.00M974.50 297.00h11.00M990.00 295.00V300.00M984.50 295.00h11.00M984.50 300.00h11.00M1000.00 298.00V303.00M994.50 298.00h11.00M994.50 303.00h11.00M1010.00 300.50V305.50M1004.50 300.50h11.00M1004.50 305.50h11.00M1020.00 302.75V307.25M1014.50 302.75h11.00M1014.50 307.25h11.00M1030.00 304.25V308.75M1024.50 304.25h11.00M1024.50 308.75h11.00M1040.00 305.50V310.00M1034.50 305.50h11.00M1034.50 310.00h11.00M1050.00 306.75V311.25M1044.50 306.75h11.00M1044.50 311.25h11.00M1060.00 308.00V312.00M1054.50 308.00h11.00M1054.50 312.00h11.00M1070.00 309.00V313.00M1064.50 309.00h11.00M1064.50 313.00h11.00M1080.00 310.00V314.00M1074.50 310.00h11.00M1074.50 314.00h11.00M1090.00 311.00V315.00M1084.50 311.00h11.00M1084.50 315.00h11.00M1100.00 311.75V315.75M1094.50 311.75h11.00M1094.50 315.75h11.00M1110.00 312.25V316.25M1104.50 312.25h11.00M1104.50 316.25h11.00M1120.00 312.75V316.75M1114.50 312.75h11.00M1114.50 316.75h11.00M1130.00 313.25V317.25M1124.50 313.25h11.00M1124.50 317.25h11.00M1140.00 313.75V317.75M1134.50 313.75h11.00M1134.50 317.75h11.00M1150.00 314.50V318.50M1144.50 314.50h11.00M1144.50 318.50h11.00M1160.00 315.25V319.25M1154.50 315.25h11.00M1154.50 319.25h11.00M1170.00 316.00V320.00M1164.50 316.00h11.00M1164.50 320.00h11.00M1180.00 316.50V320.50M1174.50 316.50h11.00M1174.50 320.50h11.00M1190.00 317.00V321.00M1184.50 317.00h11.00M1184.50 321.00h11.00M1200.00 317.50V321.50M1194.50 317.50h11.00M1194.50 321.50h11.00M1210.00 317.75V321.75M1204.50 317.75h11.00M1204.50 321.75h11.00M1220.00 318.00V322.00M1214.50 318.00h11.00M1214.50 322.00h11.00M1230.00 318.25V322.25M1224.50 318.25h11.00M1224.50 322.25h11.00M1236.25 318.50V322.50M1230.75 318.50h11.00M1230.75 322.50h11.00" fill="none" stroke="#141414" stroke-width="1.25"/>
<text transform="translate(804.35 132.40) scale(1.0192 1)" font-size="28.30" fill="#000">5</text>
<text transform="translate(804.96 187.70) scale(0.9586 1)" font-size="28.30" fill="#000">4</text>
<text transform="translate(804.35 243.00) scale(1.0192 1)" font-size="28.30" fill="#000">3</text>
<text transform="translate(803.99 298.30) scale(1.0640 1)" font-size="28.30" fill="#000">2</text>
<text transform="translate(805.15 353.60) scale(0.6823 1)" font-size="28.30" fill="#000">1</text>
<text transform="translate(830.95 384.60) scale(0.9375 1)" font-size="28.00" fill="#000">0</text>
<text transform="translate(1034.29 384.60) scale(0.9925 1)" font-size="28.00" fill="#000">5</text>
<text transform="translate(1231.96 384.60) scale(0.9714 1)" font-size="28.00" fill="#000">10</text>
<text transform="translate(773.20 297.78) rotate(-90) scale(0.9815 1)" font-size="29.00" fill="#000">Recruitment</text>
<text transform="translate(1125.00 148.75) scale(0.9889 1)" font-size="27.00" font-weight="bold" fill="#111">WT</text>
<text transform="translate(1124.35 176.25) scale(0.9694 1)" font-size="27.00" font-weight="bold" fill="#f5281c">ARH3KO</text>
<line x1="835.90" y1="444.00" x2="835.90" y2="696.50" stroke="#000" stroke-width="2.6"/>
<line x1="827.50" y1="688.10" x2="1241.00" y2="688.10" stroke="#000" stroke-width="3"/>
<line x1="835.75" y1="688.00" x2="835.75" y2="696.50" stroke="#000" stroke-width="2.4"/>
<line x1="880.60" y1="688.00" x2="880.60" y2="696.50" stroke="#000" stroke-width="2.4"/>
<line x1="925.45" y1="688.00" x2="925.45" y2="696.50" stroke="#000" stroke-width="2.4"/>
<line x1="970.30" y1="688.00" x2="970.30" y2="696.50" stroke="#000" stroke-width="2.4"/>
<line x1="1015.15" y1="688.00" x2="1015.15" y2="696.50" stroke="#000" stroke-width="2.4"/>
<line x1="1060.00" y1="688.00" x2="1060.00" y2="696.50" stroke="#000" stroke-width="2.4"/>
<line x1="1104.85" y1="688.00" x2="1104.85" y2="696.50" stroke="#000" stroke-width="2.4"/>
<line x1="1149.70" y1="688.00" x2="1149.70" y2="696.50" stroke="#000" stroke-width="2.4"/>
<line x1="1194.55" y1="688.00" x2="1194.55" y2="696.50" stroke="#000" stroke-width="2.4"/>
<line x1="1239.40" y1="688.00" x2="1239.40" y2="696.50" stroke="#000" stroke-width="2.4"/>
<line x1="827.80" y1="471.50" x2="836.00" y2="471.50" stroke="#000" stroke-width="2.4"/>
<line x1="827.80" y1="525.60" x2="836.00" y2="525.60" stroke="#000" stroke-width="2.4"/>
<line x1="827.80" y1="579.70" x2="836.00" y2="579.70" stroke="#000" stroke-width="2.4"/>
<line x1="827.80" y1="633.80" x2="836.00" y2="633.80" stroke="#000" stroke-width="2.4"/>
<polyline points="835.75,678.75 849.20,646.75 862.65,636.25 876.10,622.50 889.55,610.00 903.00,598.00 916.45,583.75 929.90,550.00 943.35,535.00 956.80,521.25 970.25,506.75 983.70,494.50 997.15,485.75 1010.60,479.50 1024.05,476.25 1037.50,475.00 1050.95,470.00 1064.40,466.75 1077.85,466.25 1091.30,469.50 1104.75,466.25 1118.20,468.75 1131.65,470.00 1145.10,471.00 1158.55,470.00 1172.00,472.00 1185.45,471.50 1198.90,472.25 1212.35,473.00 1225.80,475.50 1239.25,477.00" fill="none" stroke="#f01010" stroke-width="2.2" stroke-linejoin="round"/>
<polyline points="835.75,685.00 849.20,629.50 862.65,626.25 876.10,616.25 889.55,608.25 903.00,598.00 916.45,588.00 929.90,575.00 943.35,562.00 956.80,551.25 970.25,538.75 983.70,529.50 997.15,521.75 1010.60,516.25 1024.05,513.75 1037.50,512.00 1050.95,515.00 1064.40,520.75 1077.85,522.50 1091.30,527.00 1104.75,533.75 1118.20,542.50 1131.65,548.75 1145.10,553.75 1158.55,560.00 1172.00,566.25 1185.45,572.00 1198.90,578.00 1212.35,585.00 1225.80,592.00 1239.25,599.25" fill="none" stroke="#0c0c0c" stroke-width="2.2" stroke-linejoin="round"/>
<path d="M835.75 681.25V688.75M832.00 681.25h7.50M832.00 688.75h7.50M849.20 625.00V634.00M845.45 625.00h7.50M845.45 634.00h7.50M862.65 622.50V630.00M858.90 622.50h7.50M858.90 630.00h7.50M876.10 611.75V620.75M872.35 611.75h7.50M872.35 620.75h7.50M889.55 603.75V612.75M885.80 603.75h7.50M885.80 612.75h7.50M903.00 594.25V601.75M899.25 594.25h7.50M899.25 601.75h7.50M916.45 582.50V593.50M912.70 582.50h7.50M912.70 593.50h7.50M929.90 570.50V579.50M926.15 570.50h7.50M926.15 579.50h7.50M943.35 557.50V566.50M939.60 557.50h7.50M939.60 566.50h7.50M956.80 546.75V555.75M953.05 546.75h7.50M953.05 555.75h7.50M970.25 534.25V543.25M966.50 534.25h7.50M966.50 543.25h7.50M983.70 525.00V534.00M979.95 525.00h7.50M979.95 534.00h7.50M997.15 518.00V525.50M993.40 518.00h7.50M993.40 525.50h7.50M1010.60 513.00V519.50M1006.85 513.00h7.50M1006.85 519.50h7.50M1024.05 510.00V517.50M1020.30 510.00h7.50M1020.30 517.50h7.50M1037.50 507.50V516.50M1033.75 507.50h7.50M1033.75 516.50h7.50M1050.95 510.00V520.00M1047.20 510.00h7.50M1047.20 520.00h7.50M1064.40 515.25V526.25M1060.65 515.25h7.50M1060.65 526.25h7.50M1077.85 517.00V528.00M1074.10 517.00h7.50M1074.10 528.00h7.50M1091.30 520.75V533.25M1087.55 520.75h7.50M1087.55 533.25h7.50M1104.75 527.50V540.00M1101.00 527.50h7.50M1101.00 540.00h7.50M1118.20 537.00V548.00M1114.45 537.00h7.50M1114.45 548.00h7.50M1131.65 542.50V555.00M1127.90 542.50h7.50M1127.90 555.00h7.50M1145.10 547.50V560.00M1141.35 547.50h7.50M1141.35 560.00h7.50M1158.55 553.25V566.75M1154.80 553.25h7.50M1154.80 566.75h7.50M1172.00 558.75V573.75M1168.25 558.75h7.50M1168.25 573.75h7.50M1185.45 564.50V579.50M1181.70 564.50h7.50M1181.70 579.50h7.50M1198.90 570.50V585.50M1195.15 570.50h7.50M1195.15 585.50h7.50M1212.35 577.50V592.50M1208.60 577.50h7.50M1208.60 592.50h7.50M1225.80 584.00V600.00M1222.05 584.00h7.50M1222.05 600.00h7.50M1239.25 591.25V607.25M1235.50 591.25h7.50M1235.50 607.25h7.50" fill="none" stroke="#222" stroke-width="1.25"/>
<path d="M835.75 675.00V682.50M832.00 675.00h7.50M832.00 682.50h7.50M849.20 644.25V649.25M845.45 644.25h7.50M845.45 649.25h7.50M862.65 633.75V638.75M858.90 633.75h7.50M858.90 638.75h7.50M876.10 619.50V625.50M872.35 619.50h7.50M872.35 625.50h7.50M889.55 606.25V613.75M885.80 606.25h7.50M885.80 613.75h7.50M903.00 594.25V601.75M899.25 594.25h7.50M899.25 601.75h7.50M916.45 576.75V590.75M912.70 576.75h7.50M912.70 590.75h7.50M929.90 544.50V555.50M926.15 544.50h7.50M926.15 555.50h7.50M943.35 528.25V541.75M939.60 528.25h7.50M939.60 541.75h7.50M956.80 512.50V530.00M953.05 512.50h7.50M953.05 530.00h7.50M970.25 497.50V516.00M966.50 497.50h7.50M966.50 516.00h7.50M983.70 483.75V505.25M979.95 483.75h7.50M979.95 505.25h7.50M997.15 474.50V497.00M993.40 474.50h7.50M993.40 497.00h7.50M1010.60 467.50V491.50M1006.85 467.50h7.50M1006.85 491.50h7.50M1024.05 463.75V488.75M1020.30 463.75h7.50M1020.30 488.75h7.50M1037.50 462.50V487.50M1033.75 462.50h7.50M1033.75 487.50h7.50M1050.95 456.25V483.75M1047.20 456.25h7.50M1047.20 483.75h7.50M1064.40 453.00V480.50M1060.65 453.00h7.50M1060.65 480.50h7.50M1077.85 452.50V480.00M1074.10 452.50h7.50M1074.10 480.00h7.50M1091.30 455.75V483.25M1087.55 455.75h7.50M1087.55 483.25h7.50M1104.75 452.50V480.00M1101.00 452.50h7.50M1101.00 480.00h7.50M1118.20 455.00V482.50M1114.45 455.00h7.50M1114.45 482.50h7.50M1131.65 456.25V483.75M1127.90 456.25h7.50M1127.90 483.75h7.50M1145.10 458.00V484.00M1141.35 458.00h7.50M1141.35 484.00h7.50M1158.55 456.25V483.75M1154.80 456.25h7.50M1154.80 483.75h7.50M1172.00 459.00V485.00M1168.25 459.00h7.50M1168.25 485.00h7.50M1185.45 457.75V485.25M1181.70 457.75h7.50M1181.70 485.25h7.50M1198.90 459.25V485.25M1195.15 459.25h7.50M1195.15 485.25h7.50M1212.35 459.75V486.25M1208.60 459.75h7.50M1208.60 486.25h7.50M1225.80 462.50V488.50M1222.05 462.50h7.50M1222.05 488.50h7.50M1239.25 463.25V490.75M1235.50 463.25h7.50M1235.50 490.75h7.50" fill="none" stroke="#222" stroke-width="1.25"/>
<text transform="translate(802.03 483.10) scale(0.9549 1)" font-size="28.00" fill="#000">5</text>
<text transform="translate(802.60 537.50) scale(0.8982 1)" font-size="28.00" fill="#000">4</text>
<text transform="translate(802.03 595.00) scale(0.9549 1)" font-size="28.00" fill="#000">3</text>
<text transform="translate(801.70 648.10) scale(0.9969 1)" font-size="28.00" fill="#000">2</text>
<text transform="translate(802.79 704.75) scale(0.6732 1)" font-size="28.00" fill="#000">1</text>
<text transform="translate(830.89 728.75) scale(0.9003 1)" font-size="28.00" fill="#000">0</text>
<text transform="translate(962.70 728.75) scale(0.9398 1)" font-size="28.00" fill="#000">5</text>
<text transform="translate(1089.19 728.75) scale(0.9821 1)" font-size="28.00" fill="#000">10</text>
<text transform="translate(1224.18 728.75) scale(0.9871 1)" font-size="28.00" fill="#000">15</text>
<text transform="translate(913.83 762.25) scale(1.0134 1)" font-size="28.00" fill="#000">Time after IR (min)</text>
<text transform="translate(777.00 641.01) rotate(-90) scale(1.0098 1)" font-size="28.00" fill="#000">Recruitment</text>
<text transform="translate(1122.50 644.25) scale(0.9589 1)" font-size="27.00" font-weight="bold" fill="#111">WT</text>
<text transform="translate(1121.85 672.50) scale(0.9694 1)" font-size="27.00" font-weight="bold" fill="#f5281c">ARH3KO</text>
<text transform="translate(113.43 788.00) scale(1.0084 1)" font-size="28.20" fill="#000">Time after IR (min)</text><line x1="93.75" y1="799.50" x2="368.00" y2="799.50" stroke="#1c1c1c" stroke-width="2.6"/><path d="M365.5 785.2 L395 799.5 L365.5 813.8Z" fill="#1c1c1c"/><text transform="translate(109.83 834.40) scale(1.0417 1)" font-size="28.00" fill="#000">0</text><text transform="translate(174.85 834.40) scale(1.0226 1)" font-size="28.00" fill="#000">3</text><text transform="translate(234.90 834.40) scale(1.0000 1)" font-size="28.00" fill="#000">10</text><text transform="translate(303.81 834.40) scale(1.0409 1)" font-size="28.00" fill="#000">15</text>
<text transform="translate(113.43 1187.60) scale(1.0084 1)" font-size="28.20" fill="#000">Time after IR (min)</text><line x1="93.75" y1="1199.30" x2="368.00" y2="1199.30" stroke="#1c1c1c" stroke-width="2.6"/><path d="M365.5 1185.0 L395 1199.3 L365.5 1213.6Z" fill="#1c1c1c"/><text transform="translate(109.83 1234.30) scale(1.0417 1)" font-size="28.00" fill="#000">0</text><text transform="translate(174.85 1234.30) scale(1.0226 1)" font-size="28.00" fill="#000">3</text><text transform="translate(234.90 1234.30) scale(1.0000 1)" font-size="28.00" fill="#000">10</text><text transform="translate(303.81 1234.30) scale(1.0409 1)" font-size="28.00" fill="#000">15</text>
<polyline points="97.00,872.00 98.00,872.00 99.00,872.00 100.00,872.00 101.00,872.00 102.00,872.00 103.00,872.00 104.00,872.00 105.00,872.00 106.00,872.00 107.00,872.00 108.00,872.00 109.00,872.00 110.00,872.00 111.00,872.00 112.00,872.00 113.00,871.99 114.00,871.99 115.00,871.99 116.00,871.98 117.00,871.97 118.00,871.96 119.00,871.95 120.00,871.93 121.00,871.90 122.00,871.86 123.00,871.82 124.00,871.76 125.00,871.68 126.00,871.58 127.00,871.45 128.00,871.30 129.00,871.10 130.00,870.86 131.00,870.57 132.00,870.22 133.00,869.81 134.00,869.32 135.00,868.74 136.00,868.08 137.00,867.31 138.00,866.45 139.00,865.48 140.00,864.40 141.00,863.21 142.00,861.93 143.00,860.56 144.00,859.10 145.00,857.58 146.00,856.01 147.00,854.41 148.00,852.82 149.00,851.25 150.00,849.74 151.00,848.32 152.00,847.01 153.00,845.85 154.00,844.86 155.00,844.06 156.00,843.48 157.00,843.12 158.00,843.00 159.00,843.12 160.00,843.48 161.00,844.06 162.00,844.86 163.00,845.85 164.00,847.01 165.00,848.32 166.00,849.74 167.00,851.25 168.00,852.82 169.00,854.41 170.00,856.01 171.00,857.58 172.00,859.10 173.00,860.56 174.00,861.93 175.00,863.21 176.00,864.40 177.00,865.48 178.00,866.45 179.00,867.31 180.00,868.08 181.00,868.74 182.00,869.32 183.00,869.81 184.00,870.22 185.00,870.57 186.00,870.86 187.00,871.10 188.00,871.30 189.00,871.45 190.00,871.58 191.00,871.68 192.00,871.76 193.00,871.82 194.00,871.86 195.00,871.90 196.00,871.93 197.00,871.95 198.00,871.96 199.00,871.97 200.00,871.98 201.00,871.99 202.00,871.99 203.00,871.99 204.00,872.00 205.00,872.00 206.00,872.00 207.00,872.00 208.00,872.00 209.00,872.00 210.00,872.00 211.00,872.00 212.00,872.00 213.00,872.00 214.00,872.00 215.00,872.00 216.00,872.00 217.00,872.00 218.00,872.00 219.00,872.00 220.00,872.00 221.00,872.00 222.00,872.00 223.00,872.00 224.00,872.00 225.00,872.00 226.00,872.00 227.00,872.00 228.00,872.00 229.00,872.00 230.00,872.00 231.00,872.00 232.00,872.00 233.00,872.00 234.00,872.00 235.00,872.00 236.00,872.00 237.00,872.00 238.00,872.00 239.00,872.00 240.00,872.00 241.00,872.00 242.00,872.00 243.00,872.00 244.00,872.00 245.00,872.00 246.00,872.00 247.00,872.00 248.00,872.00 249.00,872.00 250.00,872.00 251.00,872.00 252.00,872.00 253.00,872.00 254.00,872.00 255.00,872.00 256.00,872.00 257.00,872.00 258.00,872.00 259.00,872.00 260.00,872.00 261.00,872.00 262.00,872.00 263.00,872.00 264.00,872.00 265.00,872.00 266.00,872.00 267.00,872.00 268.00,872.00 269.00,872.00 270.00,872.00 271.00,872.00 272.00,872.00 273.00,872.00 274.00,872.00 275.00,872.00 276.00,872.00 277.00,872.00 278.00,872.00 279.00,872.00 280.00,872.00 281.00,872.00 282.00,872.00 283.00,872.00 284.00,872.00 285.00,872.00 286.00,872.00 287.00,872.00 288.00,872.00 289.00,872.00 290.00,872.00 291.00,872.00 292.00,872.00 293.00,872.00 294.00,872.00 295.00,872.00 296.00,872.00 297.00,872.00 298.00,872.00 299.00,872.00 300.00,872.00 301.00,872.00 302.00,872.00 303.00,872.00 304.00,872.00 305.00,872.00 306.00,872.00 307.00,872.00 308.00,872.00 309.00,872.00 310.00,872.00 311.00,872.00 312.00,872.00 313.00,872.00 314.00,872.00 315.00,872.00 316.00,872.00 317.00,872.00 318.00,872.00 319.00,872.00 320.00,872.00 321.00,872.00 322.00,872.00 323.00,872.00 324.00,872.00 325.00,872.00 326.00,872.00 327.00,872.00 328.00,872.00 329.00,872.00 330.00,872.00 331.00,872.00 332.00,872.00 333.00,872.00 334.00,872.00 335.00,872.00 336.00,872.00 337.00,872.00 338.00,872.00 339.00,872.00 340.00,872.00 341.00,872.00 342.00,872.00 343.00,872.00 344.00,872.00 345.00,872.00 346.00,872.00 347.00,872.00 348.00,872.00 349.00,872.00 350.00,872.00 351.00,872.00 352.00,872.00 353.00,872.00 354.00,872.00 355.00,872.00 356.00,872.00 357.00,872.00 358.00,872.00 359.00,872.00 360.00,872.00 361.00,872.00 362.00,872.00 363.00,872.00 364.00,872.00 365.00,872.00 366.00,872.00 367.00,872.00 368.00,872.00 369.00,872.00 370.00,872.00 371.00,872.00 372.00,872.00 373.00,872.00 374.00,872.00 375.00,872.00 376.00,872.00 377.00,872.00 378.00,872.00 379.00,872.00 380.00,872.00 381.00,872.00 382.00,872.00 383.00,872.00 384.00,872.00 385.00,872.00 386.00,872.00 387.00,872.00 388.00,872.00 389.00,872.00 390.00,872.00 391.00,872.00 392.00,872.00 393.00,872.00 394.00,872.00" fill="none" stroke="#111" stroke-width="1.4" stroke-linejoin="round"/>
<polyline points="97.00,874.30 130.00,874.30 140.00,873.60 150.00,871.50 160.00,868.50 175.00,864.00 200.00,857.00 220.00,851.30 232.00,848.00 240.00,846.40 245.00,846.00 250.00,846.20 258.00,847.60 270.00,850.50 300.00,859.00 320.00,865.00 335.00,869.50 345.00,872.30 352.00,873.60 360.00,874.30 393.75,874.30" fill="none" stroke="#f0201a" stroke-width="1.3" stroke-linejoin="round"/>
<text transform="translate(121.48 893.75) scale(0.8975 1)" font-size="17.50" font-weight="bold" fill="#111">Poly ADPr</text>
<text transform="translate(228.21 893.75) scale(0.9113 1)" font-size="17.50" font-weight="bold" fill="#f5281c">Mono ADPr</text>
<polyline points="88.00,1273.00 89.00,1273.00 90.00,1273.00 91.00,1273.00 92.00,1273.00 93.00,1273.00 94.00,1273.00 95.00,1273.00 96.00,1273.00 97.00,1273.00 98.00,1273.00 99.00,1273.00 100.00,1273.00 101.00,1273.00 102.00,1272.99 103.00,1272.99 104.00,1272.99 105.00,1272.98 106.00,1272.98 107.00,1272.97 108.00,1272.95 109.00,1272.93 110.00,1272.91 111.00,1272.88 112.00,1272.83 113.00,1272.78 114.00,1272.70 115.00,1272.61 116.00,1272.49 117.00,1272.35 118.00,1272.16 119.00,1271.94 120.00,1271.66 121.00,1271.32 122.00,1270.92 123.00,1270.45 124.00,1269.89 125.00,1269.23 126.00,1268.48 127.00,1267.63 128.00,1266.66 129.00,1265.59 130.00,1264.40 131.00,1263.10 132.00,1261.70 133.00,1260.21 134.00,1258.64 135.00,1257.01 136.00,1255.34 137.00,1253.66 138.00,1251.99 139.00,1250.37 140.00,1248.83 141.00,1247.39 142.00,1246.08 143.00,1244.95 144.00,1244.01 145.00,1243.28 146.00,1242.78 147.00,1242.53 148.00,1242.53 149.00,1242.78 150.00,1243.28 151.00,1244.01 152.00,1244.95 153.00,1246.08 154.00,1247.39 155.00,1248.83 156.00,1250.37 157.00,1251.99 158.00,1253.66 159.00,1255.34 160.00,1257.01 161.00,1258.64 162.00,1260.21 163.00,1261.70 164.00,1263.10 165.00,1264.40 166.00,1265.59 167.00,1266.66 168.00,1267.63 169.00,1268.48 170.00,1269.23 171.00,1269.89 172.00,1270.45 173.00,1270.92 174.00,1271.32 175.00,1271.66 176.00,1271.94 177.00,1272.16 178.00,1272.35 179.00,1272.49 180.00,1272.61 181.00,1272.70 182.00,1272.78 183.00,1272.83 184.00,1272.88 185.00,1272.91 186.00,1272.93 187.00,1272.95 188.00,1272.97 189.00,1272.98 190.00,1272.98 191.00,1272.99 192.00,1272.99 193.00,1272.99 194.00,1273.00 195.00,1273.00 196.00,1273.00 197.00,1273.00 198.00,1273.00 199.00,1273.00 200.00,1273.00 201.00,1273.00 202.00,1273.00 203.00,1273.00 204.00,1273.00 205.00,1273.00 206.00,1273.00 207.00,1273.00 208.00,1273.00 209.00,1273.00 210.00,1273.00 211.00,1273.00 212.00,1273.00 213.00,1273.00 214.00,1273.00 215.00,1273.00 216.00,1273.00 217.00,1273.00 218.00,1273.00 219.00,1273.00 220.00,1273.00 221.00,1273.00 222.00,1273.00 223.00,1273.00 224.00,1273.00 225.00,1273.00 226.00,1273.00 227.00,1273.00 228.00,1273.00 229.00,1273.00 230.00,1273.00 231.00,1273.00 232.00,1273.00 233.00,1273.00 234.00,1273.00 235.00,1273.00 236.00,1273.00 237.00,1273.00 238.00,1273.00 239.00,1273.00 240.00,1273.00 241.00,1273.00 242.00,1273.00 243.00,1273.00 244.00,1273.00 245.00,1273.00 246.00,1273.00 247.00,1273.00 248.00,1273.00 249.00,1273.00 250.00,1273.00 251.00,1273.00 252.00,1273.00 253.00,1273.00 254.00,1273.00 255.00,1273.00 256.00,1273.00 257.00,1273.00 258.00,1273.00 259.00,1273.00 260.00,1273.00 261.00,1273.00 262.00,1273.00 263.00,1273.00 264.00,1273.00 265.00,1273.00 266.00,1273.00 267.00,1273.00 268.00,1273.00 269.00,1273.00 270.00,1273.00 271.00,1273.00 272.00,1273.00 273.00,1273.00 274.00,1273.00 275.00,1273.00 276.00,1273.00 277.00,1273.00 278.00,1273.00 279.00,1273.00 280.00,1273.00 281.00,1273.00 282.00,1273.00 283.00,1273.00 284.00,1273.00 285.00,1273.00 286.00,1273.00 287.00,1273.00 288.00,1273.00 289.00,1273.00 290.00,1273.00 291.00,1273.00 292.00,1273.00 293.00,1273.00 294.00,1273.00 295.00,1273.00 296.00,1273.00 297.00,1273.00 298.00,1273.00 299.00,1273.00 300.00,1273.00 301.00,1273.00 302.00,1273.00 303.00,1273.00 304.00,1273.00 305.00,1273.00 306.00,1273.00 307.00,1273.00 308.00,1273.00 309.00,1273.00 310.00,1273.00 311.00,1273.00 312.00,1273.00 313.00,1273.00 314.00,1273.00 315.00,1273.00 316.00,1273.00 317.00,1273.00 318.00,1273.00 319.00,1273.00 320.00,1273.00 321.00,1273.00 322.00,1273.00 323.00,1273.00 324.00,1273.00 325.00,1273.00 326.00,1273.00 327.00,1273.00 328.00,1273.00 329.00,1273.00 330.00,1273.00 331.00,1273.00 332.00,1273.00 333.00,1273.00 334.00,1273.00 335.00,1273.00 336.00,1273.00 337.00,1273.00 338.00,1273.00 339.00,1273.00 340.00,1273.00 341.00,1273.00 342.00,1273.00 343.00,1273.00 344.00,1273.00 345.00,1273.00 346.00,1273.00 347.00,1273.00 348.00,1273.00 349.00,1273.00 350.00,1273.00 351.00,1273.00 352.00,1273.00 353.00,1273.00 354.00,1273.00 355.00,1273.00 356.00,1273.00 357.00,1273.00 358.00,1273.00 359.00,1273.00 360.00,1273.00 361.00,1273.00 362.00,1273.00 363.00,1273.00 364.00,1273.00 365.00,1273.00 366.00,1273.00 367.00,1273.00 368.00,1273.00 369.00,1273.00 370.00,1273.00 371.00,1273.00 372.00,1273.00 373.00,1273.00 374.00,1273.00 375.00,1273.00" fill="none" stroke="#111" stroke-width="1.4" stroke-linejoin="round"/>
<polyline points="88.00,1275.00 118.00,1275.00 128.00,1274.30 140.00,1272.00 155.00,1267.50 175.00,1260.50 200.00,1252.00 220.00,1245.50 230.00,1243.20 240.00,1242.00 250.00,1241.80 375.75,1241.80" fill="none" stroke="#f0201a" stroke-width="1.3" stroke-linejoin="round"/>
<text transform="translate(106.88 1295.75) scale(0.9283 1)" font-size="18.50" font-weight="bold" fill="#111">Poly ADPr</text>
<text transform="translate(234.37 1295.75) scale(0.9381 1)" font-size="18.50" font-weight="bold" fill="#f5281c">Mono ADPr</text>
<text transform="translate(63.75 1028.14) rotate(-90) scale(0.9066 1)" font-size="31.00" fill="#000">WT</text>
<text transform="translate(63.75 1451.25) rotate(-90) scale(0.8828 1)" font-size="31.00" fill="#000">ARH3KO</text>
<line x1="658.75" y1="992.00" x2="658.75" y2="1335.50" stroke="#000" stroke-width="1.8"/>
<line x1="654.50" y1="1334.60" x2="1145.50" y2="1334.60" stroke="#000" stroke-width="1.8"/>
<line x1="658.75" y1="1334.60" x2="658.75" y2="1341.00" stroke="#000" stroke-width="1.4"/>
<line x1="707.36" y1="1334.60" x2="707.36" y2="1339.00" stroke="#000" stroke-width="1.4"/>
<line x1="755.97" y1="1334.60" x2="755.97" y2="1339.00" stroke="#000" stroke-width="1.4"/>
<line x1="804.58" y1="1334.60" x2="804.58" y2="1341.00" stroke="#000" stroke-width="1.4"/>
<line x1="853.19" y1="1334.60" x2="853.19" y2="1339.00" stroke="#000" stroke-width="1.4"/>
<line x1="901.80" y1="1334.60" x2="901.80" y2="1339.00" stroke="#000" stroke-width="1.4"/>
<line x1="950.41" y1="1334.60" x2="950.41" y2="1341.00" stroke="#000" stroke-width="1.4"/>
<line x1="999.02" y1="1334.60" x2="999.02" y2="1339.00" stroke="#000" stroke-width="1.4"/>
<line x1="1047.63" y1="1334.60" x2="1047.63" y2="1339.00" stroke="#000" stroke-width="1.4"/>
<line x1="1096.24" y1="1334.60" x2="1096.24" y2="1341.00" stroke="#000" stroke-width="1.4"/>
<line x1="1144.85" y1="1334.60" x2="1144.85" y2="1339.00" stroke="#000" stroke-width="1.4"/>
<line x1="655.80" y1="992.50" x2="658.75" y2="992.50" stroke="#000" stroke-width="1.4"/>
<line x1="654.30" y1="1041.75" x2="658.75" y2="1041.75" stroke="#000" stroke-width="1.4"/>
<line x1="655.80" y1="1090.75" x2="658.75" y2="1090.75" stroke="#000" stroke-width="1.4"/>
<line x1="654.30" y1="1139.50" x2="658.75" y2="1139.50" stroke="#000" stroke-width="1.4"/>
<line x1="655.80" y1="1188.25" x2="658.75" y2="1188.25" stroke="#000" stroke-width="1.4"/>
<line x1="654.30" y1="1237.00" x2="658.75" y2="1237.00" stroke="#000" stroke-width="1.4"/>
<line x1="655.80" y1="1286.20" x2="658.75" y2="1286.20" stroke="#000" stroke-width="1.4"/>
<polyline points="658.75,1237.00 687.92,1057.50 717.09,1043.25 746.26,1053.00 775.43,1076.25 804.60,1097.00 833.77,1125.00 862.94,1145.00 892.11,1170.00 921.28,1196.25 950.45,1228.50 979.62,1246.50 1008.79,1261.25 1037.96,1276.75 1067.13,1290.75 1096.30,1300.00 1125.47,1308.00" fill="none" stroke="#1f4788" stroke-width="2.5" stroke-linejoin="round"/>
<polyline points="658.75,1237.00 687.92,1065.50 717.09,1043.75 746.26,1058.75 775.43,1078.75 804.60,1094.25 833.77,1106.75 862.94,1120.50 892.11,1131.50 921.28,1149.50 950.45,1155.50 979.62,1165.75 1008.79,1168.25 1037.96,1179.50 1067.13,1177.00 1096.30,1181.00 1125.47,1180.25" fill="none" stroke="#f5421c" stroke-width="2.5" stroke-linejoin="round"/>
<path d="M687.92 1044.25V1070.75M684.92 1044.25h6.00M684.92 1070.75h6.00M717.09 1025.00V1061.50M714.09 1025.00h6.00M714.09 1061.50h6.00M746.26 1040.00V1066.00M743.26 1040.00h6.00M743.26 1066.00h6.00M775.43 1061.25V1091.25M772.43 1061.25h6.00M772.43 1091.25h6.00M804.60 1082.75V1111.25M801.60 1082.75h6.00M801.60 1111.25h6.00M833.77 1111.75V1138.25M830.77 1111.75h6.00M830.77 1138.25h6.00M862.94 1131.25V1158.75M859.94 1131.25h6.00M859.94 1158.75h6.00M892.11 1155.50V1184.50M889.11 1155.50h6.00M889.11 1184.50h6.00M921.28 1180.00V1212.50M918.28 1180.00h6.00M918.28 1212.50h6.00M950.45 1210.25V1246.75M947.45 1210.25h6.00M947.45 1246.75h6.00M979.62 1229.75V1263.25M976.62 1229.75h6.00M976.62 1263.25h6.00M1008.79 1243.00V1279.50M1005.79 1243.00h6.00M1005.79 1279.50h6.00M1037.96 1258.00V1295.50M1034.96 1258.00h6.00M1034.96 1295.50h6.00M1067.13 1270.00V1311.50M1064.13 1270.00h6.00M1064.13 1311.50h6.00M1096.30 1280.50V1319.50M1093.30 1280.50h6.00M1093.30 1319.50h6.00M1125.47 1289.25V1326.75M1122.47 1289.25h6.00M1122.47 1326.75h6.00" fill="none" stroke="#1a1a1a" stroke-width="1.4"/>
<path d="M687.92 1051.00V1080.00M684.92 1051.00h6.00M684.92 1080.00h6.00M717.09 1029.75V1057.75M714.09 1029.75h6.00M714.09 1057.75h6.00M746.26 1040.75V1076.75M743.26 1040.75h6.00M743.26 1076.75h6.00M775.43 1061.25V1096.25M772.43 1061.25h6.00M772.43 1096.25h6.00M804.60 1077.50V1111.00M801.60 1077.50h6.00M801.60 1111.00h6.00M833.77 1088.75V1124.75M830.77 1088.75h6.00M830.77 1124.75h6.00M862.94 1103.00V1138.00M859.94 1103.00h6.00M859.94 1138.00h6.00M892.11 1114.50V1148.50M889.11 1114.50h6.00M889.11 1148.50h6.00M921.28 1132.75V1166.25M918.28 1132.75h6.00M918.28 1166.25h6.00M950.45 1141.00V1170.00M947.45 1141.00h6.00M947.45 1170.00h6.00M979.62 1151.25V1180.25M976.62 1151.25h6.00M976.62 1180.25h6.00M1008.79 1151.25V1185.25M1005.79 1151.25h6.00M1005.79 1185.25h6.00M1037.96 1162.50V1196.50M1034.96 1162.50h6.00M1034.96 1196.50h6.00M1067.13 1160.25V1193.75M1064.13 1160.25h6.00M1064.13 1193.75h6.00M1096.30 1162.50V1199.50M1093.30 1162.50h6.00M1093.30 1199.50h6.00M1125.47 1161.25V1199.25M1122.47 1161.25h6.00M1122.47 1199.25h6.00" fill="none" stroke="#1a1a1a" stroke-width="1.4"/>
<text transform="translate(592.83 1052.50) scale(1.0315 1)" font-size="28.00" fill="#000">1.20</text>
<text transform="translate(592.83 1150.00) scale(1.0315 1)" font-size="28.00" fill="#000">1.10</text>
<text transform="translate(592.83 1247.50) scale(1.0315 1)" font-size="28.00" fill="#000">1.00</text>
<text transform="translate(647.71 1365.25) scale(1.0016 1)" font-size="26.00" fill="#000">0</text>
<text transform="translate(798.07 1365.25) scale(1.1336 1)" font-size="26.00" fill="#000">5</text>
<text transform="translate(934.19 1365.25) scale(1.0577 1)" font-size="26.00" fill="#000">10</text>
<text transform="translate(1079.12 1365.25) scale(1.0920 1)" font-size="26.00" fill="#000">15</text>
<text transform="translate(803.93 1402.25) scale(1.0314 1)" font-size="27.50" fill="#000">Time after IR (min)</text>
<text transform="translate(537.80 1225.18) rotate(-90) scale(1.0050 1)" font-size="28.50" fill="#000">Chromatin</text>
<text transform="translate(569.30 1256.14) rotate(-90) scale(1.0027 1)" font-size="28.50" fill="#000">decondensation</text>
<text transform="translate(933.00 1006.25) scale(0.9574 1)" font-size="36.00" font-weight="bold" fill="#3b699e">WT</text>
<text transform="translate(932.15 1047.50) scale(0.9460 1)" font-size="36.00" font-weight="bold" fill="#f0613f">ARH3KO</text>
<path d="M1621.10 403.37 L1621.64 403.17 L1622.18 402.88 L1622.72 402.46 L1623.26 401.86 L1623.80 401.02 L1624.34 399.87 L1624.88 398.31 L1625.42 396.22 L1625.96 393.49 L1626.50 389.97 L1627.04 385.50 L1627.58 379.93 L1628.12 373.10 L1628.66 364.88 L1629.20 355.17 L1629.74 343.88 L1630.28 331.04 L1630.82 316.70 L1631.36 301.02 L1631.90 284.25 L1632.44 266.73 L1632.98 248.89 L1633.52 231.23 L1634.06 214.31 L1634.60 198.69 L1635.14 184.96 L1635.68 173.65 L1636.22 165.22 L1636.76 160.01 L1637.30 158.25 L1637.84 160.01 L1638.38 165.22 L1638.92 173.65 L1639.46 184.96 L1640.00 198.69 L1640.54 214.31 L1641.08 231.23 L1641.62 248.89 L1642.16 266.73 L1642.70 284.25 L1643.24 301.02 L1643.78 316.70 L1644.32 331.04 L1644.86 343.88 L1645.40 355.17 L1645.94 364.88 L1646.48 373.10 L1647.02 379.93 L1647.56 385.50 L1648.10 389.97 L1648.64 393.49 L1649.18 396.22 L1649.72 398.31 L1650.26 399.87 L1650.80 401.02 L1651.34 401.86 L1651.88 402.46 L1652.42 402.88 L1652.96 403.17 L1653.50 403.37Z" fill="rgba(60,50,255,0.74)" stroke="rgba(50,40,255,0.9)" stroke-width="0.8"/>
<path d="M1766.98 403.21 L1767.36 402.92 L1767.75 402.50 L1768.13 401.89 L1768.52 401.02 L1768.90 399.81 L1769.28 398.15 L1769.67 395.89 L1770.05 392.89 L1770.44 388.95 L1770.82 383.86 L1771.20 377.42 L1771.59 369.38 L1771.97 359.53 L1772.36 347.67 L1772.74 333.64 L1773.12 317.37 L1773.51 298.83 L1773.89 278.14 L1774.28 255.51 L1774.66 231.32 L1775.04 206.04 L1775.43 180.30 L1775.81 154.81 L1776.20 130.39 L1776.58 107.86 L1776.96 88.05 L1777.35 71.73 L1777.73 59.56 L1778.12 52.04 L1778.50 49.50 L1778.88 52.04 L1779.27 59.56 L1779.65 71.73 L1780.04 88.05 L1780.42 107.86 L1780.80 130.39 L1781.19 154.81 L1781.57 180.30 L1781.96 206.04 L1782.34 231.32 L1782.72 255.51 L1783.11 278.14 L1783.49 298.83 L1783.88 317.37 L1784.26 333.64 L1784.64 347.67 L1785.03 359.53 L1785.41 369.38 L1785.80 377.42 L1786.18 383.86 L1786.56 388.95 L1786.95 392.89 L1787.33 395.89 L1787.72 398.15 L1788.10 399.81 L1788.48 401.02 L1788.87 401.89 L1789.25 402.50 L1789.64 402.92 L1790.02 403.21Z" fill="rgba(240,40,50,0.74)" stroke="rgba(250,30,40,0.9)" stroke-width="0.8"/>
<path d="M1629.20 403.58 L1630.46 403.50 L1631.72 403.37 L1632.98 403.18 L1634.24 402.92 L1635.50 402.55 L1636.76 402.04 L1638.02 401.36 L1639.28 400.44 L1640.54 399.24 L1641.80 397.69 L1643.06 395.72 L1644.32 393.27 L1645.58 390.27 L1646.84 386.65 L1648.10 382.38 L1649.36 377.41 L1650.62 371.76 L1651.88 365.45 L1653.14 358.56 L1654.40 351.18 L1655.66 343.47 L1656.92 335.63 L1658.18 327.86 L1659.44 320.41 L1660.70 313.54 L1661.96 307.50 L1663.22 302.53 L1664.48 298.82 L1665.74 296.52 L1667.00 295.75 L1668.26 296.52 L1669.52 298.82 L1670.78 302.53 L1672.04 307.50 L1673.30 313.54 L1674.56 320.41 L1675.82 327.86 L1677.08 335.63 L1678.34 343.47 L1679.60 351.18 L1680.86 358.56 L1682.12 365.45 L1683.38 371.76 L1684.64 377.41 L1685.90 382.38 L1687.16 386.65 L1688.42 390.27 L1689.68 393.27 L1690.94 395.72 L1692.20 397.69 L1693.46 399.24 L1694.72 400.44 L1695.98 401.36 L1697.24 402.04 L1698.50 402.55 L1699.76 402.92 L1701.02 403.18 L1702.28 403.37 L1703.54 403.50 L1704.80 403.58Z" fill="rgba(236,255,40,0.78)" stroke="rgba(240,255,60,0.9)" stroke-width="0.8"/>
<path d="M1699.34 875.96 L1699.71 875.68 L1700.08 875.27 L1700.46 874.67 L1700.83 873.81 L1701.20 872.62 L1701.57 870.98 L1701.94 868.76 L1702.32 865.80 L1702.69 861.92 L1703.06 856.91 L1703.43 850.56 L1703.80 842.64 L1704.18 832.93 L1704.55 821.25 L1704.92 807.43 L1705.29 791.40 L1705.66 773.13 L1706.04 752.75 L1706.41 730.46 L1706.78 706.62 L1707.15 681.72 L1707.52 656.36 L1707.90 631.25 L1708.27 607.19 L1708.64 584.99 L1709.01 565.48 L1709.38 549.40 L1709.76 537.41 L1710.13 530.00 L1710.50 527.50 L1710.87 530.00 L1711.24 537.41 L1711.62 549.40 L1711.99 565.48 L1712.36 584.99 L1712.73 607.19 L1713.10 631.25 L1713.48 656.36 L1713.85 681.72 L1714.22 706.62 L1714.59 730.46 L1714.96 752.75 L1715.34 773.13 L1715.71 791.40 L1716.08 807.43 L1716.45 821.25 L1716.82 832.93 L1717.20 842.64 L1717.57 850.56 L1717.94 856.91 L1718.31 861.92 L1718.68 865.80 L1719.06 868.76 L1719.43 870.98 L1719.80 872.62 L1720.17 873.81 L1720.54 874.67 L1720.92 875.27 L1721.29 875.68 L1721.66 875.96Z" fill="rgba(60,50,255,0.74)" stroke="rgba(50,40,255,0.9)" stroke-width="0.8"/>
<path d="M1733.48 875.99 L1733.86 875.71 L1734.25 875.31 L1734.63 874.74 L1735.02 873.92 L1735.40 872.77 L1735.78 871.19 L1736.17 869.05 L1736.55 866.21 L1736.94 862.47 L1737.32 857.65 L1737.70 851.54 L1738.09 843.92 L1738.47 834.59 L1738.86 823.35 L1739.24 810.06 L1739.62 794.63 L1740.01 777.06 L1740.39 757.45 L1740.78 736.01 L1741.16 713.07 L1741.54 689.11 L1741.93 664.72 L1742.31 640.56 L1742.70 617.41 L1743.08 596.06 L1743.46 577.28 L1743.85 561.82 L1744.23 550.28 L1744.62 543.16 L1745.00 540.75 L1745.38 543.16 L1745.77 550.28 L1746.15 561.82 L1746.54 577.28 L1746.92 596.06 L1747.30 617.41 L1747.69 640.56 L1748.07 664.72 L1748.46 689.11 L1748.84 713.07 L1749.22 736.01 L1749.61 757.45 L1749.99 777.06 L1750.38 794.63 L1750.76 810.06 L1751.14 823.35 L1751.53 834.59 L1751.91 843.92 L1752.30 851.54 L1752.68 857.65 L1753.06 862.47 L1753.45 866.21 L1753.83 869.05 L1754.22 871.19 L1754.60 872.77 L1754.98 873.92 L1755.37 874.74 L1755.75 875.31 L1756.14 875.71 L1756.52 875.99Z" fill="rgba(240,40,50,0.74)" stroke="rgba(250,30,40,0.9)" stroke-width="0.8"/>
<path d="M1738.95 876.23 L1739.61 876.09 L1740.27 875.88 L1740.93 875.58 L1741.59 875.15 L1742.25 874.55 L1742.91 873.72 L1743.57 872.60 L1744.23 871.11 L1744.89 869.16 L1745.55 866.63 L1746.21 863.44 L1746.87 859.45 L1747.53 854.56 L1748.19 848.68 L1748.85 841.72 L1749.51 833.64 L1750.17 824.45 L1750.83 814.18 L1751.49 802.96 L1752.15 790.95 L1752.81 778.41 L1753.47 765.64 L1754.13 753.00 L1754.79 740.88 L1755.45 729.70 L1756.11 719.87 L1756.77 711.78 L1757.43 705.74 L1758.09 702.01 L1758.75 700.75 L1759.41 702.01 L1760.07 705.74 L1760.73 711.78 L1761.39 719.87 L1762.05 729.70 L1762.71 740.88 L1763.37 753.00 L1764.03 765.64 L1764.69 778.41 L1765.35 790.95 L1766.01 802.96 L1766.67 814.18 L1767.33 824.45 L1767.99 833.64 L1768.65 841.72 L1769.31 848.68 L1769.97 854.56 L1770.63 859.45 L1771.29 863.44 L1771.95 866.63 L1772.61 869.16 L1773.27 871.11 L1773.93 872.60 L1774.59 873.72 L1775.25 874.55 L1775.91 875.15 L1776.57 875.58 L1777.23 875.88 L1777.89 876.09 L1778.55 876.23Z" fill="rgba(236,255,40,0.78)" stroke="rgba(240,255,60,0.9)" stroke-width="0.8"/>
<line x1="1550.00" y1="40.00" x2="1550.00" y2="409.25" stroke="#2b2b2b" stroke-width="1.3"/>
<line x1="1538.00" y1="403.75" x2="1885.75" y2="403.75" stroke="#2b2b2b" stroke-width="1.3"/>
<line x1="1550.00" y1="403.75" x2="1550.00" y2="409.25" stroke="#2b2b2b" stroke-width="1.3"/>
<line x1="1660.30" y1="403.75" x2="1660.30" y2="409.25" stroke="#2b2b2b" stroke-width="1.3"/>
<line x1="1770.75" y1="403.75" x2="1770.75" y2="409.25" stroke="#2b2b2b" stroke-width="1.3"/>
<line x1="1884.00" y1="403.75" x2="1884.00" y2="409.25" stroke="#2b2b2b" stroke-width="1.3"/>
<line x1="1541.25" y1="78.00" x2="1550.00" y2="78.00" stroke="#2b2b2b" stroke-width="1.3"/>
<text transform="translate(1486.87 88.60) scale(1.0240 1)" font-size="28.00" fill="#000">600</text>
<line x1="1541.25" y1="185.50" x2="1550.00" y2="185.50" stroke="#2b2b2b" stroke-width="1.3"/>
<text transform="translate(1487.74 196.10) scale(1.0049 1)" font-size="28.00" fill="#000">400</text>
<line x1="1541.25" y1="295.60" x2="1550.00" y2="295.60" stroke="#2b2b2b" stroke-width="1.3"/>
<text transform="translate(1486.87 306.20) scale(1.0240 1)" font-size="28.00" fill="#000">200</text>
<text transform="translate(1514.33 416.95) scale(1.0417 1)" font-size="28.00" fill="#000">0</text>
<text transform="translate(1530.11 434.75) scale(1.0143 1)" font-size="28.00" fill="#000">0.04</text>
<text transform="translate(1635.10 434.75) scale(1.0293 1)" font-size="28.00" fill="#000">0.06</text>
<text transform="translate(1747.60 434.75) scale(1.0293 1)" font-size="28.00" fill="#000">0.08</text>
<text transform="translate(1868.93 434.75) scale(0.9579 1)" font-size="28.00" fill="#000">0.1</text>
<line x1="1550.00" y1="512.50" x2="1550.00" y2="882.00" stroke="#2b2b2b" stroke-width="1.3"/>
<line x1="1538.00" y1="876.50" x2="1885.75" y2="876.50" stroke="#2b2b2b" stroke-width="1.3"/>
<line x1="1550.00" y1="876.50" x2="1550.00" y2="882.00" stroke="#2b2b2b" stroke-width="1.3"/>
<line x1="1660.30" y1="876.50" x2="1660.30" y2="882.00" stroke="#2b2b2b" stroke-width="1.3"/>
<line x1="1770.75" y1="876.50" x2="1770.75" y2="882.00" stroke="#2b2b2b" stroke-width="1.3"/>
<line x1="1884.00" y1="876.50" x2="1884.00" y2="882.00" stroke="#2b2b2b" stroke-width="1.3"/>
<line x1="1541.25" y1="527.50" x2="1550.00" y2="527.50" stroke="#2b2b2b" stroke-width="1.3"/>
<text transform="translate(1487.01 538.10) scale(1.0207 1)" font-size="28.00" fill="#000">800</text>
<line x1="1541.25" y1="613.25" x2="1550.00" y2="613.25" stroke="#2b2b2b" stroke-width="1.3"/>
<text transform="translate(1486.87 623.85) scale(1.0240 1)" font-size="28.00" fill="#000">600</text>
<line x1="1541.25" y1="700.75" x2="1550.00" y2="700.75" stroke="#2b2b2b" stroke-width="1.3"/>
<text transform="translate(1487.74 711.35) scale(1.0049 1)" font-size="28.00" fill="#000">400</text>
<line x1="1541.25" y1="788.25" x2="1550.00" y2="788.25" stroke="#2b2b2b" stroke-width="1.3"/>
<text transform="translate(1486.87 798.85) scale(1.0240 1)" font-size="28.00" fill="#000">200</text>
<text transform="translate(1514.33 889.70) scale(1.0417 1)" font-size="28.00" fill="#000">0</text>
<text transform="translate(1530.11 907.50) scale(1.0143 1)" font-size="28.00" fill="#000">0.04</text>
<text transform="translate(1635.10 907.50) scale(1.0293 1)" font-size="28.00" fill="#000">0.06</text>
<text transform="translate(1747.60 907.50) scale(1.0293 1)" font-size="28.00" fill="#000">0.08</text>
<text transform="translate(1868.93 907.50) scale(0.9579 1)" font-size="28.00" fill="#000">0.1</text>
<text transform="translate(1672.25 49.00) scale(0.9589 1)" font-size="30.40" fill="#000">WT</text>
<text transform="translate(1645.75 487.00) scale(0.9589 1)" font-size="30.40" fill="#000">ARH3KO</text>
<text transform="translate(1528.75 948.90) scale(1.0049 1)" font-size="31.70" fill="#000">H2B Mean Jump Distance (µm)</text>
<text transform="translate(1446.30 603.22) rotate(-90) scale(0.9686 1)" font-size="32.5" fill="#000">Density (µm<tspan x="176.93" dy="-15.3" font-size="15">-1</tspan><tspan x="190.35" dy="15.3">)</tspan></text>
<rect x="1887.6" y="30.4" width="32.2" height="24.6" fill="#5a44ff"/>
<rect x="1887.6" y="61.85" width="32.2" height="24.55" fill="#f8484c"/>
<rect x="1885.7" y="97.9" width="32.3" height="24.8" fill="#f0ff46"/>
<text transform="translate(1925.43 50.10) scale(0.9621 1)" font-size="26.70" fill="#000">before</text>
<text transform="translate(1925.83 83.20) scale(0.9914 1)" font-size="26.50" fill="#000">1min</text>
<text transform="translate(1923.95 119.10) scale(0.9795 1)" font-size="26.50" fill="#000">10min</text>
</svg>
</body></html>
